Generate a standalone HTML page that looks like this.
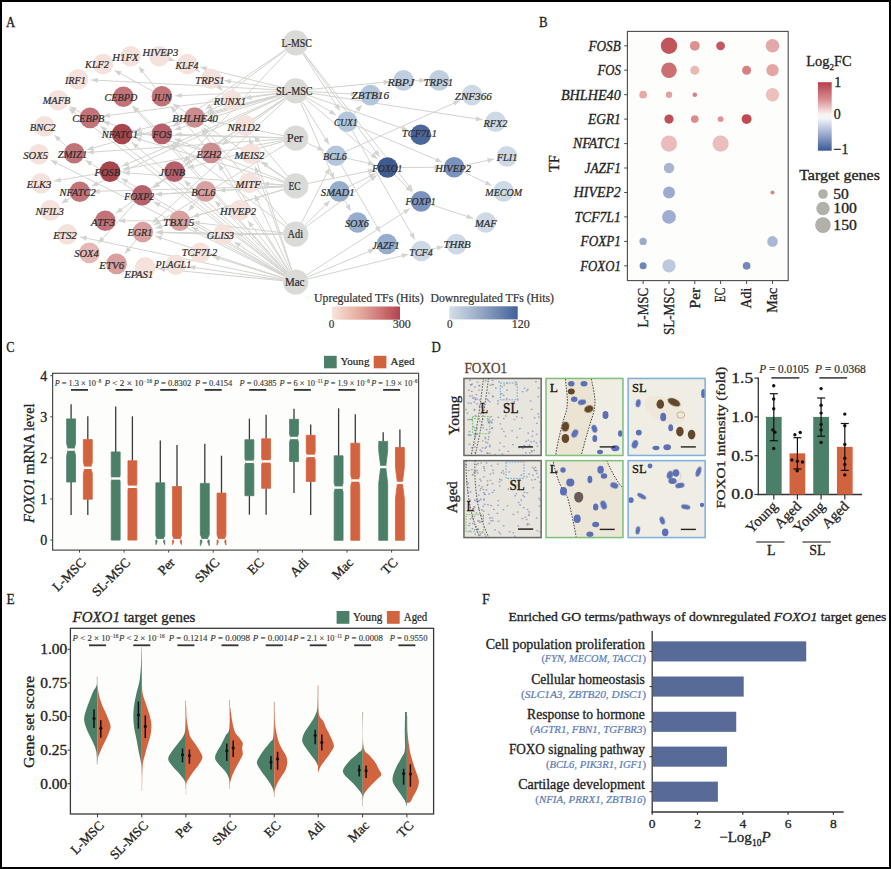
<!DOCTYPE html>
<html><head><meta charset="utf-8"><style>
html,body{margin:0;padding:0;background:#fff;}
svg{display:block;font-family:'Liberation Serif', serif;}
</style></head><body>
<svg width="891" height="869" viewBox="0 0 891 869">
<rect x="0" y="0" width="891" height="869" fill="#000"/>
<rect x="2" y="2" width="887" height="865" fill="#fff"/>
<text x="5.9" y="26.6" font-size="15.5" text-anchor="start" fill="#1a1a1a" style="" textLength="9.2" lengthAdjust="spacingAndGlyphs"  stroke="#1a1a1a" stroke-width="0.3">A</text>
<text x="539.0" y="26.7" font-size="15.5" text-anchor="start" fill="#1a1a1a" style="" textLength="8.6" lengthAdjust="spacingAndGlyphs"  stroke="#1a1a1a" stroke-width="0.3">B</text>
<text x="6.3" y="351.6" font-size="15.5" text-anchor="start" fill="#1a1a1a" style="" textLength="8.3" lengthAdjust="spacingAndGlyphs"  stroke="#1a1a1a" stroke-width="0.3">C</text>
<text x="431.5" y="351.5" font-size="15.5" text-anchor="start" fill="#1a1a1a" style="" textLength="9.3" lengthAdjust="spacingAndGlyphs"  stroke="#1a1a1a" stroke-width="0.3">D</text>
<text x="6.4" y="604.0" font-size="15.5" text-anchor="start" fill="#1a1a1a" style="" textLength="8.2" lengthAdjust="spacingAndGlyphs"  stroke="#1a1a1a" stroke-width="0.3">E</text>
<text x="482.0" y="603.9" font-size="15.5" text-anchor="start" fill="#1a1a1a" style="" textLength="7.8" lengthAdjust="spacingAndGlyphs"  stroke="#1a1a1a" stroke-width="0.3">F</text>
<line x1="285.6" y1="50.3" x2="205.4" y2="109.6" stroke="#d3d3cf" stroke-width="1"/>
<path d="M205.4,109.6L209.1,103.6L212.2,107.8Z" fill="#d3d3cf"/>
<line x1="287.1" y1="52.0" x2="183.6" y2="161.9" stroke="#d3d3cf" stroke-width="1"/>
<path d="M183.6,161.9L186.2,155.4L190.0,159.0Z" fill="#d3d3cf"/>
<line x1="302.6" y1="53.4" x2="339.9" y2="110.7" stroke="#d3d3cf" stroke-width="1"/>
<path d="M339.9,110.7L334.2,106.6L338.6,103.8Z" fill="#d3d3cf"/>
<line x1="303.2" y1="52.9" x2="379.6" y2="156.8" stroke="#d3d3cf" stroke-width="1"/>
<path d="M379.6,156.8L373.7,153.1L377.9,150.0Z" fill="#d3d3cf"/>
<line x1="303.5" y1="52.7" x2="412.9" y2="191.0" stroke="#d3d3cf" stroke-width="1"/>
<path d="M412.9,191.0L406.8,187.5L410.9,184.3Z" fill="#d3d3cf"/>
<line x1="285.3" y1="49.9" x2="172.9" y2="126.4" stroke="#d3d3cf" stroke-width="1"/>
<path d="M172.9,126.4L176.8,120.6L179.7,124.9Z" fill="#d3d3cf"/>
<line x1="283.1" y1="90.1" x2="91.3" y2="79.9" stroke="#d3d3cf" stroke-width="1"/>
<path d="M91.3,79.9L97.9,77.7L97.6,82.8Z" fill="#d3d3cf"/>
<line x1="283.2" y1="89.0" x2="224.3" y2="80.6" stroke="#d3d3cf" stroke-width="1"/>
<path d="M224.3,80.6L231.1,78.9L230.3,84.1Z" fill="#d3d3cf"/>
<line x1="283.1" y1="91.3" x2="175.2" y2="95.8" stroke="#d3d3cf" stroke-width="1"/>
<path d="M175.2,95.8L181.6,92.9L181.8,98.1Z" fill="#d3d3cf"/>
<line x1="283.2" y1="92.4" x2="103.3" y2="116.2" stroke="#d3d3cf" stroke-width="1"/>
<path d="M103.3,116.2L109.4,112.7L110.1,117.9Z" fill="#d3d3cf"/>
<line x1="283.5" y1="94.0" x2="207.6" y2="114.1" stroke="#d3d3cf" stroke-width="1"/>
<path d="M207.6,114.1L213.2,109.9L214.5,115.0Z" fill="#d3d3cf"/>
<line x1="283.5" y1="93.8" x2="134.9" y2="130.8" stroke="#d3d3cf" stroke-width="1"/>
<path d="M134.9,130.8L140.6,126.7L141.8,131.7Z" fill="#d3d3cf"/>
<line x1="283.7" y1="94.7" x2="174.6" y2="129.8" stroke="#d3d3cf" stroke-width="1"/>
<path d="M174.6,129.8L179.9,125.4L181.5,130.3Z" fill="#d3d3cf"/>
<line x1="283.6" y1="94.2" x2="87.0" y2="149.7" stroke="#d3d3cf" stroke-width="1"/>
<path d="M87.0,149.7L92.5,145.4L94.0,150.4Z" fill="#d3d3cf"/>
<line x1="284.1" y1="95.8" x2="122.2" y2="166.3" stroke="#d3d3cf" stroke-width="1"/>
<path d="M122.2,166.3L127.1,161.3L129.2,166.1Z" fill="#d3d3cf"/>
<line x1="284.3" y1="96.1" x2="91.8" y2="186.2" stroke="#d3d3cf" stroke-width="1"/>
<path d="M91.8,186.2L96.6,181.1L98.8,185.8Z" fill="#d3d3cf"/>
<line x1="286.4" y1="99.3" x2="152.6" y2="223.0" stroke="#d3d3cf" stroke-width="1"/>
<path d="M152.6,223.0L155.6,216.7L159.1,220.5Z" fill="#d3d3cf"/>
<line x1="283.5" y1="87.8" x2="200.2" y2="67.2" stroke="#d3d3cf" stroke-width="1"/>
<path d="M200.2,67.2L207.1,66.2L205.9,71.3Z" fill="#d3d3cf"/>
<line x1="283.2" y1="92.7" x2="245.0" y2="98.3" stroke="#d3d3cf" stroke-width="1"/>
<path d="M245.0,98.3L251.0,94.8L251.8,100.0Z" fill="#d3d3cf"/>
<line x1="285.5" y1="98.3" x2="221.8" y2="145.0" stroke="#d3d3cf" stroke-width="1"/>
<path d="M221.8,145.0L225.5,139.1L228.6,143.3Z" fill="#d3d3cf"/>
<line x1="285.2" y1="97.8" x2="185.6" y2="164.2" stroke="#d3d3cf" stroke-width="1"/>
<path d="M185.6,164.2L189.5,158.5L192.4,162.8Z" fill="#d3d3cf"/>
<line x1="285.3" y1="97.9" x2="153.2" y2="187.7" stroke="#d3d3cf" stroke-width="1"/>
<path d="M153.2,187.7L157.1,181.9L160.0,186.2Z" fill="#d3d3cf"/>
<line x1="308.2" y1="89.6" x2="390.3" y2="81.7" stroke="#d3d3cf" stroke-width="1"/>
<path d="M390.3,81.7L384.0,84.9L383.5,79.7Z" fill="#d3d3cf"/>
<line x1="308.2" y1="92.7" x2="482.5" y2="119.8" stroke="#d3d3cf" stroke-width="1"/>
<path d="M482.5,119.8L475.6,121.3L476.4,116.2Z" fill="#d3d3cf"/>
<line x1="307.6" y1="95.0" x2="408.2" y2="130.4" stroke="#d3d3cf" stroke-width="1"/>
<path d="M408.2,130.4L401.2,130.7L402.9,125.8Z" fill="#d3d3cf"/>
<line x1="308.3" y1="91.5" x2="357.2" y2="94.3" stroke="#d3d3cf" stroke-width="1"/>
<path d="M357.2,94.3L350.6,96.6L350.9,91.4Z" fill="#d3d3cf"/>
<line x1="306.5" y1="97.3" x2="335.8" y2="114.9" stroke="#d3d3cf" stroke-width="1"/>
<path d="M335.8,114.9L328.9,113.8L331.6,109.4Z" fill="#d3d3cf"/>
<line x1="302.3" y1="101.5" x2="329.0" y2="144.5" stroke="#d3d3cf" stroke-width="1"/>
<path d="M329.0,144.5L323.4,140.3L327.8,137.6Z" fill="#d3d3cf"/>
<line x1="305.4" y1="98.9" x2="377.3" y2="159.0" stroke="#d3d3cf" stroke-width="1"/>
<path d="M377.3,159.0L370.6,156.8L374.0,152.8Z" fill="#d3d3cf"/>
<line x1="300.7" y1="102.4" x2="334.1" y2="179.2" stroke="#d3d3cf" stroke-width="1"/>
<path d="M334.1,179.2L329.1,174.3L333.9,172.2Z" fill="#d3d3cf"/>
<line x1="283.1" y1="137.8" x2="175.2" y2="134.3" stroke="#d3d3cf" stroke-width="1"/>
<path d="M175.2,134.3L181.8,131.9L181.6,137.1Z" fill="#d3d3cf"/>
<line x1="283.3" y1="140.4" x2="123.1" y2="169.2" stroke="#d3d3cf" stroke-width="1"/>
<path d="M123.1,169.2L129.0,165.5L129.9,170.7Z" fill="#d3d3cf"/>
<line x1="285.0" y1="144.8" x2="154.1" y2="225.0" stroke="#d3d3cf" stroke-width="1"/>
<path d="M154.1,225.0L158.3,219.4L161.0,223.9Z" fill="#d3d3cf"/>
<line x1="283.4" y1="135.7" x2="207.7" y2="120.2" stroke="#d3d3cf" stroke-width="1"/>
<path d="M207.7,120.2L214.6,118.9L213.6,124.0Z" fill="#d3d3cf"/>
<line x1="283.1" y1="137.9" x2="135.3" y2="134.3" stroke="#d3d3cf" stroke-width="1"/>
<path d="M135.3,134.3L141.9,131.9L141.7,137.1Z" fill="#d3d3cf"/>
<line x1="283.6" y1="141.5" x2="187.3" y2="168.1" stroke="#d3d3cf" stroke-width="1"/>
<path d="M187.3,168.1L192.9,163.8L194.3,168.8Z" fill="#d3d3cf"/>
<line x1="283.1" y1="139.1" x2="87.5" y2="152.4" stroke="#d3d3cf" stroke-width="1"/>
<path d="M87.5,152.4L93.8,149.4L94.1,154.5Z" fill="#d3d3cf"/>
<line x1="307.2" y1="143.2" x2="323.8" y2="150.5" stroke="#d3d3cf" stroke-width="1"/>
<path d="M323.8,150.5L316.8,150.3L318.9,145.5Z" fill="#d3d3cf"/>
<line x1="283.1" y1="184.9" x2="123.3" y2="172.6" stroke="#d3d3cf" stroke-width="1"/>
<path d="M123.3,172.6L129.9,170.5L129.5,175.7Z" fill="#d3d3cf"/>
<line x1="283.6" y1="182.3" x2="134.7" y2="137.8" stroke="#d3d3cf" stroke-width="1"/>
<path d="M134.7,137.8L141.7,137.2L140.2,142.2Z" fill="#d3d3cf"/>
<line x1="283.6" y1="189.5" x2="155.5" y2="228.2" stroke="#d3d3cf" stroke-width="1"/>
<path d="M155.5,228.2L161.0,223.8L162.5,228.8Z" fill="#d3d3cf"/>
<line x1="284.0" y1="181.3" x2="174.3" y2="138.7" stroke="#d3d3cf" stroke-width="1"/>
<path d="M174.3,138.7L181.3,138.6L179.4,143.5Z" fill="#d3d3cf"/>
<line x1="283.1" y1="185.1" x2="262.4" y2="183.7" stroke="#d3d3cf" stroke-width="1"/>
<path d="M262.4,183.7L269.0,181.5L268.7,186.7Z" fill="#d3d3cf"/>
<line x1="283.1" y1="186.7" x2="218.9" y2="190.6" stroke="#d3d3cf" stroke-width="1"/>
<path d="M218.9,190.6L225.2,187.6L225.5,192.8Z" fill="#d3d3cf"/>
<line x1="283.1" y1="186.2" x2="93.1" y2="191.4" stroke="#d3d3cf" stroke-width="1"/>
<path d="M93.1,191.4L99.5,188.7L99.7,193.9Z" fill="#d3d3cf"/>
<line x1="283.1" y1="186.7" x2="155.5" y2="194.4" stroke="#d3d3cf" stroke-width="1"/>
<path d="M155.5,194.4L161.8,191.4L162.1,196.6Z" fill="#d3d3cf"/>
<line x1="283.6" y1="189.5" x2="192.4" y2="217.0" stroke="#d3d3cf" stroke-width="1"/>
<path d="M192.4,217.0L197.9,212.6L199.4,217.6Z" fill="#d3d3cf"/>
<line x1="285.5" y1="178.6" x2="261.6" y2="161.5" stroke="#d3d3cf" stroke-width="1"/>
<path d="M261.6,161.5L268.4,163.2L265.4,167.4Z" fill="#d3d3cf"/>
<line x1="287.6" y1="176.2" x2="253.8" y2="135.8" stroke="#d3d3cf" stroke-width="1"/>
<path d="M253.8,135.8L260.0,139.1L256.0,142.5Z" fill="#d3d3cf"/>
<line x1="308.1" y1="183.4" x2="374.5" y2="170.1" stroke="#d3d3cf" stroke-width="1"/>
<path d="M374.5,170.1L368.6,173.9L367.6,168.8Z" fill="#d3d3cf"/>
<line x1="285.2" y1="178.9" x2="173.0" y2="103.7" stroke="#d3d3cf" stroke-width="1"/>
<path d="M173.0,103.7L179.8,105.2L176.9,109.5Z" fill="#d3d3cf"/>
<line x1="283.1" y1="234.0" x2="156.1" y2="232.2" stroke="#d3d3cf" stroke-width="1"/>
<path d="M156.1,232.2L162.6,229.7L162.6,234.9Z" fill="#d3d3cf"/>
<line x1="285.6" y1="226.6" x2="172.5" y2="141.9" stroke="#d3d3cf" stroke-width="1"/>
<path d="M172.5,141.9L179.3,143.7L176.2,147.9Z" fill="#d3d3cf"/>
<line x1="283.1" y1="234.3" x2="236.5" y2="234.5" stroke="#d3d3cf" stroke-width="1"/>
<path d="M236.5,234.5L243.0,231.9L243.0,237.1Z" fill="#d3d3cf"/>
<line x1="287.5" y1="224.7" x2="203.4" y2="127.6" stroke="#d3d3cf" stroke-width="1"/>
<path d="M203.4,127.6L209.6,130.8L205.7,134.2Z" fill="#d3d3cf"/>
<line x1="283.2" y1="232.8" x2="192.9" y2="222.3" stroke="#d3d3cf" stroke-width="1"/>
<path d="M192.9,222.3L199.7,220.5L199.1,225.7Z" fill="#d3d3cf"/>
<line x1="301.5" y1="223.0" x2="329.9" y2="167.6" stroke="#d3d3cf" stroke-width="1"/>
<path d="M329.9,167.6L329.3,174.6L324.6,172.2Z" fill="#d3d3cf"/>
<line x1="304.7" y1="225.4" x2="329.9" y2="200.7" stroke="#d3d3cf" stroke-width="1"/>
<path d="M329.9,200.7L327.1,207.1L323.4,203.4Z" fill="#d3d3cf"/>
<line x1="305.9" y1="226.8" x2="376.7" y2="175.3" stroke="#d3d3cf" stroke-width="1"/>
<path d="M376.7,175.3L373.0,181.2L370.0,177.0Z" fill="#d3d3cf"/>
<line x1="287.1" y1="272.8" x2="132.5" y2="106.5" stroke="#d3d3cf" stroke-width="1"/>
<path d="M132.5,106.5L138.8,109.5L135.0,113.1Z" fill="#d3d3cf"/>
<line x1="284.9" y1="275.6" x2="121.4" y2="178.4" stroke="#d3d3cf" stroke-width="1"/>
<path d="M121.4,178.4L128.3,179.5L125.7,184.0Z" fill="#d3d3cf"/>
<line x1="287.3" y1="272.7" x2="170.8" y2="143.8" stroke="#d3d3cf" stroke-width="1"/>
<path d="M170.8,143.8L177.1,146.8L173.2,150.3Z" fill="#d3d3cf"/>
<line x1="289.1" y1="271.3" x2="201.7" y2="128.8" stroke="#d3d3cf" stroke-width="1"/>
<path d="M201.7,128.8L207.3,133.0L202.8,135.7Z" fill="#d3d3cf"/>
<line x1="283.7" y1="278.1" x2="155.4" y2="236.1" stroke="#d3d3cf" stroke-width="1"/>
<path d="M155.4,236.1L162.4,235.7L160.8,240.6Z" fill="#d3d3cf"/>
<line x1="287.9" y1="272.1" x2="247.8" y2="220.9" stroke="#d3d3cf" stroke-width="1"/>
<path d="M247.8,220.9L253.9,224.4L249.8,227.6Z" fill="#d3d3cf"/>
<line x1="285.2" y1="275.1" x2="234.3" y2="241.9" stroke="#d3d3cf" stroke-width="1"/>
<path d="M234.3,241.9L241.2,243.3L238.3,247.6Z" fill="#d3d3cf"/>
<line x1="283.7" y1="278.3" x2="213.1" y2="256.6" stroke="#d3d3cf" stroke-width="1"/>
<path d="M213.1,256.6L220.1,256.0L218.6,261.0Z" fill="#d3d3cf"/>
<line x1="283.2" y1="280.2" x2="188.9" y2="266.7" stroke="#d3d3cf" stroke-width="1"/>
<path d="M188.9,266.7L195.7,265.0L194.9,270.2Z" fill="#d3d3cf"/>
<line x1="283.2" y1="280.8" x2="158.4" y2="268.7" stroke="#d3d3cf" stroke-width="1"/>
<path d="M158.4,268.7L165.2,266.7L164.7,271.9Z" fill="#d3d3cf"/>
<line x1="283.4" y1="279.4" x2="80.3" y2="236.9" stroke="#d3d3cf" stroke-width="1"/>
<path d="M80.3,236.9L87.2,235.7L86.1,240.8Z" fill="#d3d3cf"/>
<line x1="284.4" y1="276.4" x2="50.7" y2="160.2" stroke="#d3d3cf" stroke-width="1"/>
<path d="M50.7,160.2L57.7,160.8L55.4,165.4Z" fill="#d3d3cf"/>
<line x1="290.3" y1="270.6" x2="254.8" y2="194.8" stroke="#d3d3cf" stroke-width="1"/>
<path d="M254.8,194.8L259.9,199.6L255.2,201.8Z" fill="#d3d3cf"/>
<line x1="291.5" y1="270.1" x2="255.2" y2="166.4" stroke="#d3d3cf" stroke-width="1"/>
<path d="M255.2,166.4L259.8,171.6L254.9,173.3Z" fill="#d3d3cf"/>
<line x1="291.8" y1="270.0" x2="249.4" y2="138.3" stroke="#d3d3cf" stroke-width="1"/>
<path d="M249.4,138.3L253.8,143.6L248.9,145.2Z" fill="#d3d3cf"/>
<line x1="286.4" y1="273.5" x2="184.3" y2="180.6" stroke="#d3d3cf" stroke-width="1"/>
<path d="M184.3,180.6L190.9,183.0L187.4,186.9Z" fill="#d3d3cf"/>
<line x1="286.8" y1="273.1" x2="215.0" y2="200.8" stroke="#d3d3cf" stroke-width="1"/>
<path d="M215.0,200.8L221.4,203.6L217.7,207.3Z" fill="#d3d3cf"/>
<line x1="285.9" y1="274.1" x2="100.5" y2="126.2" stroke="#d3d3cf" stroke-width="1"/>
<path d="M100.5,126.2L107.2,128.2L104.0,132.3Z" fill="#d3d3cf"/>
<line x1="285.7" y1="274.3" x2="68.8" y2="108.4" stroke="#d3d3cf" stroke-width="1"/>
<path d="M68.8,108.4L75.5,110.3L72.3,114.4Z" fill="#d3d3cf"/>
<line x1="284.6" y1="276.1" x2="191.5" y2="227.0" stroke="#d3d3cf" stroke-width="1"/>
<path d="M191.5,227.0L198.4,227.7L196.0,232.3Z" fill="#d3d3cf"/>
<line x1="284.7" y1="275.8" x2="153.8" y2="201.7" stroke="#d3d3cf" stroke-width="1"/>
<path d="M153.8,201.7L160.7,202.7L158.2,207.2Z" fill="#d3d3cf"/>
<line x1="306.3" y1="275.2" x2="409.9" y2="208.6" stroke="#d3d3cf" stroke-width="1"/>
<path d="M409.9,208.6L405.8,214.3L403.0,209.9Z" fill="#d3d3cf"/>
<line x1="307.9" y1="279.0" x2="408.5" y2="254.2" stroke="#d3d3cf" stroke-width="1"/>
<path d="M408.5,254.2L402.8,258.3L401.6,253.2Z" fill="#d3d3cf"/>
<line x1="307.3" y1="277.2" x2="374.6" y2="249.1" stroke="#d3d3cf" stroke-width="1"/>
<path d="M374.6,249.1L369.6,254.0L367.6,249.2Z" fill="#d3d3cf"/>
<line x1="288.8" y1="271.5" x2="218.4" y2="164.0" stroke="#d3d3cf" stroke-width="1"/>
<path d="M218.4,164.0L224.1,168.0L219.8,170.9Z" fill="#d3d3cf"/>
<line x1="286.1" y1="273.8" x2="132.1" y2="142.6" stroke="#d3d3cf" stroke-width="1"/>
<path d="M132.1,142.6L138.8,144.9L135.4,148.8Z" fill="#d3d3cf"/>
<line x1="413.8" y1="80.4" x2="425.9" y2="80.4" stroke="#d3d3cf" stroke-width="1"/>
<path d="M425.9,80.4L419.4,83.0L419.4,77.8Z" fill="#d3d3cf"/>
<line x1="464.3" y1="165.2" x2="494.0" y2="159.1" stroke="#d3d3cf" stroke-width="1"/>
<path d="M494.0,159.1L488.1,162.9L487.1,157.9Z" fill="#d3d3cf"/>
<line x1="463.5" y1="171.8" x2="491.6" y2="185.6" stroke="#d3d3cf" stroke-width="1"/>
<path d="M491.6,185.6L484.7,185.1L486.9,180.4Z" fill="#d3d3cf"/>
<line x1="397.8" y1="167.5" x2="440.9" y2="167.3" stroke="#d3d3cf" stroke-width="1"/>
<path d="M440.9,167.3L434.4,170.0L434.4,164.8Z" fill="#d3d3cf"/>
<line x1="394.8" y1="174.8" x2="411.7" y2="192.0" stroke="#d3d3cf" stroke-width="1"/>
<path d="M411.7,192.0L405.3,189.2L409.0,185.5Z" fill="#d3d3cf"/>
<line x1="430.9" y1="204.6" x2="473.2" y2="218.4" stroke="#d3d3cf" stroke-width="1"/>
<path d="M473.2,218.4L466.2,218.8L467.8,213.9Z" fill="#d3d3cf"/>
<line x1="431.5" y1="249.0" x2="443.4" y2="246.7" stroke="#d3d3cf" stroke-width="1"/>
<path d="M443.4,246.7L437.6,250.5L436.6,245.4Z" fill="#d3d3cf"/>
<line x1="354.0" y1="114.0" x2="361.8" y2="105.1" stroke="#d3d3cf" stroke-width="1"/>
<path d="M361.8,105.1L359.4,111.7L355.5,108.3Z" fill="#d3d3cf"/>
<line x1="356.7" y1="125.8" x2="442.0" y2="162.1" stroke="#d3d3cf" stroke-width="1"/>
<path d="M442.0,162.1L435.0,161.9L437.0,157.2Z" fill="#d3d3cf"/>
<line x1="352.3" y1="130.7" x2="414.8" y2="239.5" stroke="#d3d3cf" stroke-width="1"/>
<path d="M414.8,239.5L409.3,235.1L413.8,232.5Z" fill="#d3d3cf"/>
<line x1="345.4" y1="151.6" x2="459.9" y2="100.5" stroke="#d3d3cf" stroke-width="1"/>
<path d="M459.9,100.5L455.0,105.5L452.9,100.8Z" fill="#d3d3cf"/>
<line x1="341.1" y1="164.7" x2="380.3" y2="232.5" stroke="#d3d3cf" stroke-width="1"/>
<path d="M380.3,232.5L374.8,228.2L379.3,225.6Z" fill="#d3d3cf"/>
<line x1="346.0" y1="158.1" x2="374.5" y2="164.6" stroke="#d3d3cf" stroke-width="1"/>
<path d="M374.5,164.6L367.6,165.6L368.8,160.6Z" fill="#d3d3cf"/>
<line x1="344.6" y1="200.3" x2="350.8" y2="211.0" stroke="#d3d3cf" stroke-width="1"/>
<path d="M350.8,211.0L345.3,206.7L349.8,204.1Z" fill="#d3d3cf"/>
<line x1="348.6" y1="186.8" x2="375.6" y2="173.4" stroke="#d3d3cf" stroke-width="1"/>
<path d="M375.6,173.4L370.9,178.6L368.6,174.0Z" fill="#d3d3cf"/>
<line x1="196.1" y1="69.4" x2="199.8" y2="71.7" stroke="#d3d3cf" stroke-width="1"/>
<path d="M199.8,71.7L192.9,70.5L195.6,66.1Z" fill="#d3d3cf"/>
<line x1="155.6" y1="88.2" x2="138.9" y2="66.7" stroke="#d3d3cf" stroke-width="1"/>
<path d="M138.9,66.7L144.9,70.2L140.8,73.4Z" fill="#d3d3cf"/>
<line x1="152.9" y1="91.3" x2="114.7" y2="70.4" stroke="#d3d3cf" stroke-width="1"/>
<path d="M114.7,70.4L121.6,71.2L119.1,75.8Z" fill="#d3d3cf"/>
<line x1="154.5" y1="126.8" x2="133.0" y2="106.0" stroke="#d3d3cf" stroke-width="1"/>
<path d="M133.0,106.0L139.5,108.7L135.9,112.4Z" fill="#d3d3cf"/>
<line x1="151.6" y1="133.9" x2="135.3" y2="134.0" stroke="#d3d3cf" stroke-width="1"/>
<path d="M135.3,134.0L141.8,131.4L141.8,136.6Z" fill="#d3d3cf"/>
<line x1="166.2" y1="177.7" x2="152.9" y2="187.4" stroke="#d3d3cf" stroke-width="1"/>
<path d="M152.9,187.4L156.7,181.4L159.7,185.6Z" fill="#d3d3cf"/>
<line x1="166.1" y1="177.6" x2="116.1" y2="213.1" stroke="#d3d3cf" stroke-width="1"/>
<path d="M116.1,213.1L119.9,207.2L122.9,211.4Z" fill="#d3d3cf"/>
<line x1="136.2" y1="239.9" x2="125.0" y2="253.6" stroke="#d3d3cf" stroke-width="1"/>
<path d="M125.0,253.6L127.1,247.0L131.1,250.3Z" fill="#d3d3cf"/>
<line x1="99.8" y1="173.3" x2="54.2" y2="181.1" stroke="#d3d3cf" stroke-width="1"/>
<path d="M54.2,181.1L60.2,177.4L61.1,182.5Z" fill="#d3d3cf"/>
<line x1="71.1" y1="197.3" x2="61.6" y2="203.3" stroke="#d3d3cf" stroke-width="1"/>
<path d="M61.6,203.3L65.7,197.6L68.5,202.0Z" fill="#d3d3cf"/>
<line x1="81.1" y1="112.9" x2="69.8" y2="106.7" stroke="#d3d3cf" stroke-width="1"/>
<path d="M69.8,106.7L76.8,107.6L74.3,112.1Z" fill="#d3d3cf"/>
<line x1="66.6" y1="146.4" x2="54.3" y2="135.2" stroke="#d3d3cf" stroke-width="1"/>
<path d="M54.3,135.2L60.9,137.6L57.4,141.5Z" fill="#d3d3cf"/>
<line x1="222.5" y1="104.6" x2="206.8" y2="111.9" stroke="#d3d3cf" stroke-width="1"/>
<path d="M206.8,111.9L211.6,106.8L213.8,111.5Z" fill="#d3d3cf"/>
<line x1="218.2" y1="86.1" x2="222.6" y2="90.7" stroke="#d3d3cf" stroke-width="1"/>
<path d="M222.6,90.7L216.2,87.8L220.0,84.2Z" fill="#d3d3cf"/>
<line x1="169.2" y1="59.0" x2="174.5" y2="60.5" stroke="#d3d3cf" stroke-width="1"/>
<path d="M174.5,60.5L167.5,61.3L168.9,56.2Z" fill="#d3d3cf"/>
<line x1="212.9" y1="234.3" x2="156.1" y2="232.4" stroke="#d3d3cf" stroke-width="1"/>
<path d="M156.1,232.4L162.7,230.0L162.5,235.2Z" fill="#d3d3cf"/>
<line x1="169.4" y1="220.8" x2="118.6" y2="220.8" stroke="#d3d3cf" stroke-width="1"/>
<path d="M118.6,220.8L125.1,218.2L125.1,223.4Z" fill="#d3d3cf"/>
<line x1="135.2" y1="202.8" x2="98.4" y2="243.1" stroke="#d3d3cf" stroke-width="1"/>
<path d="M98.4,243.1L100.8,236.5L104.7,240.0Z" fill="#d3d3cf"/>
<line x1="133.4" y1="189.8" x2="85.5" y2="160.3" stroke="#d3d3cf" stroke-width="1"/>
<path d="M85.5,160.3L92.4,161.5L89.7,165.9Z" fill="#d3d3cf"/>
<line x1="201.2" y1="150.0" x2="102.9" y2="121.6" stroke="#d3d3cf" stroke-width="1"/>
<path d="M102.9,121.6L109.8,120.9L108.4,125.9Z" fill="#d3d3cf"/>
<line x1="204.3" y1="145.1" x2="170.6" y2="106.3" stroke="#d3d3cf" stroke-width="1"/>
<path d="M170.6,106.3L176.9,109.5L172.9,112.9Z" fill="#d3d3cf"/>
<line x1="195.3" y1="192.0" x2="155.5" y2="194.4" stroke="#d3d3cf" stroke-width="1"/>
<path d="M155.5,194.4L161.8,191.4L162.1,196.6Z" fill="#d3d3cf"/>
<line x1="198.8" y1="199.1" x2="188.5" y2="210.8" stroke="#d3d3cf" stroke-width="1"/>
<path d="M188.5,210.8L190.8,204.2L194.7,207.7Z" fill="#d3d3cf"/>
<circle cx="103" cy="64" r="10.3" fill="#f6e2dc"/>
<circle cx="130.7" cy="56.2" r="10.3" fill="#f6e2dc"/>
<circle cx="159.3" cy="56.3" r="10.3" fill="#f6e2dc"/>
<circle cx="187.3" cy="64" r="10.3" fill="#f6e2dc"/>
<circle cx="211.1" cy="78.7" r="10.3" fill="#f6e2dc"/>
<circle cx="78" cy="79.2" r="10.3" fill="#f6e2dc"/>
<circle cx="58.2" cy="100.3" r="10.3" fill="#f6e2dc"/>
<circle cx="44.5" cy="126.2" r="10.3" fill="#f6e2dc"/>
<circle cx="38.8" cy="154.3" r="10.3" fill="#f6e2dc"/>
<circle cx="41.1" cy="183.3" r="10.3" fill="#f6e2dc"/>
<circle cx="50.4" cy="210.4" r="10.3" fill="#f6e2dc"/>
<circle cx="67.3" cy="234.2" r="10.3" fill="#f6e2dc"/>
<circle cx="89.4" cy="252.9" r="10.3" fill="#e5b8b4"/>
<circle cx="116.5" cy="263.9" r="10.3" fill="#d8a09f"/>
<circle cx="145.2" cy="267.4" r="10.3" fill="#f6e2dc"/>
<circle cx="175.7" cy="264.8" r="10.3" fill="#f6e2dc"/>
<circle cx="200.4" cy="252.7" r="10.3" fill="#f6e2dc"/>
<circle cx="223.2" cy="234.6" r="10.3" fill="#f6e2dc"/>
<circle cx="239.6" cy="210.4" r="10.3" fill="#f6e2dc"/>
<circle cx="249.1" cy="182.8" r="10.3" fill="#f6e2dc"/>
<circle cx="250.8" cy="153.8" r="10.3" fill="#f6e2dc"/>
<circle cx="245.3" cy="125.6" r="10.3" fill="#f6e2dc"/>
<circle cx="231.8" cy="100.3" r="10.3" fill="#f6e2dc"/>
<circle cx="123.4" cy="96.8" r="10.3" fill="#c27378"/>
<circle cx="161.9" cy="96.3" r="10.3" fill="#c27378"/>
<circle cx="90.1" cy="117.9" r="10.3" fill="#c27378"/>
<circle cx="194.7" cy="117.5" r="10.3" fill="#cc8d8f"/>
<circle cx="122" cy="134" r="10.3" fill="#a8444c"/>
<circle cx="161.9" cy="133.9" r="10.3" fill="#b5606a"/>
<circle cx="74.2" cy="153.3" r="10.3" fill="#c27378"/>
<circle cx="211.1" cy="152.9" r="10.3" fill="#cc8d8f"/>
<circle cx="110" cy="171.6" r="10.3" fill="#a8444c"/>
<circle cx="174.5" cy="171.6" r="10.3" fill="#b5606a"/>
<circle cx="79.8" cy="191.8" r="10.3" fill="#c27378"/>
<circle cx="142.2" cy="195.2" r="10.3" fill="#b5606a"/>
<circle cx="205.6" cy="191.4" r="10.3" fill="#d8a09f"/>
<circle cx="105.3" cy="220.8" r="10.3" fill="#c27378"/>
<circle cx="179.7" cy="220.8" r="10.3" fill="#d8a09f"/>
<circle cx="142.8" cy="232" r="10.3" fill="#d8a09f"/>
<circle cx="403.5" cy="80.4" r="10.3" fill="#c0cfdf"/>
<circle cx="439.2" cy="80.4" r="10.3" fill="#c0cfdf"/>
<circle cx="370.5" cy="95.1" r="10.3" fill="#b3c7dc"/>
<circle cx="472" cy="95.1" r="10.3" fill="#cddae6"/>
<circle cx="347.2" cy="121.8" r="10.3" fill="#b3c7dc"/>
<circle cx="495.6" cy="121.8" r="10.3" fill="#cddae6"/>
<circle cx="420.7" cy="134.8" r="10.3" fill="#4a679c"/>
<circle cx="336" cy="155.8" r="10.3" fill="#b3c7dc"/>
<circle cx="387.5" cy="167.5" r="10.3" fill="#3e5a8f"/>
<circle cx="454.2" cy="167.3" r="10.3" fill="#7a92bd"/>
<circle cx="507" cy="156.4" r="10.3" fill="#cddae6"/>
<circle cx="339.4" cy="191.4" r="10.3" fill="#96adcc"/>
<circle cx="503.6" cy="191.4" r="10.3" fill="#cddae6"/>
<circle cx="421.1" cy="201.4" r="10.3" fill="#7a92bd"/>
<circle cx="357.5" cy="222.5" r="10.3" fill="#96adcc"/>
<circle cx="485.8" cy="222.5" r="10.3" fill="#cddae6"/>
<circle cx="386.9" cy="244" r="10.3" fill="#96adcc"/>
<circle cx="456.5" cy="244.1" r="10.3" fill="#cddae6"/>
<circle cx="421.4" cy="251" r="10.3" fill="#cddae6"/>
<circle cx="295.7" cy="42.8" r="12.6" fill="#dadad7"/>
<circle cx="295.7" cy="90.8" r="12.6" fill="#dadad7"/>
<circle cx="295.7" cy="138.2" r="12.6" fill="#dadad7"/>
<circle cx="295.7" cy="185.9" r="12.6" fill="#dadad7"/>
<circle cx="295.7" cy="234.2" r="12.6" fill="#dadad7"/>
<circle cx="295.7" cy="282" r="12.6" fill="#dadad7"/>
<text x="85.1" y="68.3" font-size="11.3" text-anchor="start" fill="#2b2b2b" style="font-style:italic;" textLength="23.9" lengthAdjust="spacingAndGlyphs"  stroke="#2b2b2b" stroke-width="0.22">KLF2</text>
<text x="112.3" y="60.9" font-size="11.3" text-anchor="start" fill="#2b2b2b" style="font-style:italic;" textLength="26.3" lengthAdjust="spacingAndGlyphs"  stroke="#2b2b2b" stroke-width="0.22">H1FX</text>
<text x="142.6" y="56.4" font-size="11.3" text-anchor="start" fill="#2b2b2b" style="font-style:italic;" textLength="35.7" lengthAdjust="spacingAndGlyphs"  stroke="#2b2b2b" stroke-width="0.22">HIVEP3</text>
<text x="175.4" y="68.6" font-size="11.3" text-anchor="start" fill="#2b2b2b" style="font-style:italic;" textLength="23.1" lengthAdjust="spacingAndGlyphs"  stroke="#2b2b2b" stroke-width="0.22">KLF4</text>
<text x="195.3" y="83.9" font-size="11.3" text-anchor="start" fill="#2b2b2b" style="font-style:italic;" textLength="29.3" lengthAdjust="spacingAndGlyphs"  stroke="#2b2b2b" stroke-width="0.22">TRPS1</text>
<text x="64.9" y="83.5" font-size="11.3" text-anchor="start" fill="#2b2b2b" style="font-style:italic;" textLength="20.9" lengthAdjust="spacingAndGlyphs"  stroke="#2b2b2b" stroke-width="0.22">IRF1</text>
<text x="42.7" y="104.3" font-size="11.3" text-anchor="start" fill="#2b2b2b" style="font-style:italic;" textLength="27.6" lengthAdjust="spacingAndGlyphs"  stroke="#2b2b2b" stroke-width="0.22">MAFB</text>
<text x="29.7" y="130.5" font-size="11.3" text-anchor="start" fill="#2b2b2b" style="font-style:italic;" textLength="25.9" lengthAdjust="spacingAndGlyphs"  stroke="#2b2b2b" stroke-width="0.22">BNC2</text>
<text x="23.3" y="159.0" font-size="11.3" text-anchor="start" fill="#2b2b2b" style="font-style:italic;" textLength="24.7" lengthAdjust="spacingAndGlyphs"  stroke="#2b2b2b" stroke-width="0.22">SOX5</text>
<text x="26.8" y="188.0" font-size="11.3" text-anchor="start" fill="#2b2b2b" style="font-style:italic;" textLength="24.6" lengthAdjust="spacingAndGlyphs"  stroke="#2b2b2b" stroke-width="0.22">ELK3</text>
<text x="35.4" y="215.3" font-size="11.3" text-anchor="start" fill="#2b2b2b" style="font-style:italic;" textLength="28.5" lengthAdjust="spacingAndGlyphs"  stroke="#2b2b2b" stroke-width="0.22">NFIL3</text>
<text x="53.2" y="238.9" font-size="11.3" text-anchor="start" fill="#2b2b2b" style="font-style:italic;" textLength="23.6" lengthAdjust="spacingAndGlyphs"  stroke="#2b2b2b" stroke-width="0.22">ETS2</text>
<text x="74.2" y="257.4" font-size="11.3" text-anchor="start" fill="#2b2b2b" style="font-style:italic;" textLength="24.5" lengthAdjust="spacingAndGlyphs"  stroke="#2b2b2b" stroke-width="0.22">SOX4</text>
<text x="99.3" y="268.8" font-size="11.3" text-anchor="start" fill="#2b2b2b" style="font-style:italic;" textLength="25.0" lengthAdjust="spacingAndGlyphs"  stroke="#2b2b2b" stroke-width="0.22">ETV6</text>
<text x="124.3" y="278.0" font-size="11.3" text-anchor="start" fill="#2b2b2b" style="font-style:italic;" textLength="29.0" lengthAdjust="spacingAndGlyphs"  stroke="#2b2b2b" stroke-width="0.22">EPAS1</text>
<text x="155.5" y="268.2" font-size="11.3" text-anchor="start" fill="#2b2b2b" style="font-style:italic;" textLength="35.8" lengthAdjust="spacingAndGlyphs"  stroke="#2b2b2b" stroke-width="0.22">PLAGL1</text>
<text x="181.8" y="256.2" font-size="11.3" text-anchor="start" fill="#2b2b2b" style="font-style:italic;" textLength="35.4" lengthAdjust="spacingAndGlyphs"  stroke="#2b2b2b" stroke-width="0.22">TCF7L2</text>
<text x="206.8" y="239.4" font-size="11.3" text-anchor="start" fill="#2b2b2b" style="font-style:italic;" textLength="27.3" lengthAdjust="spacingAndGlyphs"  stroke="#2b2b2b" stroke-width="0.22">GLIS3</text>
<text x="220.1" y="215.3" font-size="11.3" text-anchor="start" fill="#2b2b2b" style="font-style:italic;" textLength="35.9" lengthAdjust="spacingAndGlyphs"  stroke="#2b2b2b" stroke-width="0.22">HIVEP2</text>
<text x="235.6" y="188.0" font-size="11.3" text-anchor="start" fill="#2b2b2b" style="font-style:italic;" textLength="25.2" lengthAdjust="spacingAndGlyphs"  stroke="#2b2b2b" stroke-width="0.22">MITF</text>
<text x="234.4" y="159.0" font-size="11.3" text-anchor="start" fill="#2b2b2b" style="font-style:italic;" textLength="29.9" lengthAdjust="spacingAndGlyphs"  stroke="#2b2b2b" stroke-width="0.22">MEIS2</text>
<text x="227.5" y="130.5" font-size="11.3" text-anchor="start" fill="#2b2b2b" style="font-style:italic;" textLength="32.8" lengthAdjust="spacingAndGlyphs"  stroke="#2b2b2b" stroke-width="0.22">NR1D2</text>
<text x="213.7" y="104.9" font-size="11.3" text-anchor="start" fill="#2b2b2b" style="font-style:italic;" textLength="32.3" lengthAdjust="spacingAndGlyphs"  stroke="#2b2b2b" stroke-width="0.22">RUNX1</text>
<text x="104.6" y="100.7" font-size="11.3" text-anchor="start" fill="#2b2b2b" style="font-style:italic;" textLength="32.6" lengthAdjust="spacingAndGlyphs"  stroke="#2b2b2b" stroke-width="0.22">CEBPD</text>
<text x="152.4" y="101.1" font-size="11.3" text-anchor="start" fill="#2b2b2b" style="font-style:italic;" textLength="19.0" lengthAdjust="spacingAndGlyphs"  stroke="#2b2b2b" stroke-width="0.22">JUN</text>
<text x="72.2" y="121.8" font-size="11.3" text-anchor="start" fill="#2b2b2b" style="font-style:italic;" textLength="32.2" lengthAdjust="spacingAndGlyphs"  stroke="#2b2b2b" stroke-width="0.22">CEBPB</text>
<text x="172.3" y="121.8" font-size="11.3" text-anchor="start" fill="#2b2b2b" style="font-style:italic;" textLength="45.7" lengthAdjust="spacingAndGlyphs"  stroke="#2b2b2b" stroke-width="0.22">BHLHE40</text>
<text x="101.8" y="138.2" font-size="11.3" text-anchor="start" fill="#2b2b2b" style="font-style:italic;" textLength="36.3" lengthAdjust="spacingAndGlyphs"  stroke="#2b2b2b" stroke-width="0.22">NFATC1</text>
<text x="152.4" y="138.2" font-size="11.3" text-anchor="start" fill="#2b2b2b" style="font-style:italic;" textLength="19.0" lengthAdjust="spacingAndGlyphs"  stroke="#2b2b2b" stroke-width="0.22">FOS</text>
<text x="57.8" y="158.1" font-size="11.3" text-anchor="start" fill="#2b2b2b" style="font-style:italic;" textLength="29.4" lengthAdjust="spacingAndGlyphs"  stroke="#2b2b2b" stroke-width="0.22">ZMIZ1</text>
<text x="196.5" y="158.1" font-size="11.3" text-anchor="start" fill="#2b2b2b" style="font-style:italic;" textLength="25.0" lengthAdjust="spacingAndGlyphs"  stroke="#2b2b2b" stroke-width="0.22">EZH2</text>
<text x="94.6" y="175.9" font-size="11.3" text-anchor="start" fill="#2b2b2b" style="font-style:italic;" textLength="25.4" lengthAdjust="spacingAndGlyphs"  stroke="#2b2b2b" stroke-width="0.22">FOSB</text>
<text x="159.3" y="175.9" font-size="11.3" text-anchor="start" fill="#2b2b2b" style="font-style:italic;" textLength="25.9" lengthAdjust="spacingAndGlyphs"  stroke="#2b2b2b" stroke-width="0.22">JUNB</text>
<text x="59.6" y="196.3" font-size="11.3" text-anchor="start" fill="#2b2b2b" style="font-style:italic;" textLength="36.2" lengthAdjust="spacingAndGlyphs"  stroke="#2b2b2b" stroke-width="0.22">NFATC2</text>
<text x="124.3" y="200.0" font-size="11.3" text-anchor="start" fill="#2b2b2b" style="font-style:italic;" textLength="29.9" lengthAdjust="spacingAndGlyphs"  stroke="#2b2b2b" stroke-width="0.22">FOXP2</text>
<text x="191.3" y="196.3" font-size="11.3" text-anchor="start" fill="#2b2b2b" style="font-style:italic;" textLength="24.1" lengthAdjust="spacingAndGlyphs"  stroke="#2b2b2b" stroke-width="0.22">BCL6</text>
<text x="91.1" y="226.0" font-size="11.3" text-anchor="start" fill="#2b2b2b" style="font-style:italic;" textLength="23.7" lengthAdjust="spacingAndGlyphs"  stroke="#2b2b2b" stroke-width="0.22">ATF3</text>
<text x="163.3" y="225.6" font-size="11.3" text-anchor="start" fill="#2b2b2b" style="font-style:italic;" textLength="30.9" lengthAdjust="spacingAndGlyphs"  stroke="#2b2b2b" stroke-width="0.22">TBX15</text>
<text x="127.4" y="236.3" font-size="11.3" text-anchor="start" fill="#2b2b2b" style="font-style:italic;" textLength="25.0" lengthAdjust="spacingAndGlyphs"  stroke="#2b2b2b" stroke-width="0.22">EGR1</text>
<text x="387.4" y="85.6" font-size="11.3" text-anchor="start" fill="#2b2b2b" style="font-style:italic;" textLength="26.8" lengthAdjust="spacingAndGlyphs"  stroke="#2b2b2b" stroke-width="0.22">RBPJ</text>
<text x="423.7" y="85.6" font-size="11.3" text-anchor="start" fill="#2b2b2b" style="font-style:italic;" textLength="29.3" lengthAdjust="spacingAndGlyphs"  stroke="#2b2b2b" stroke-width="0.22">TRPS1</text>
<text x="351.5" y="99.4" font-size="11.3" text-anchor="start" fill="#2b2b2b" style="font-style:italic;" textLength="37.6" lengthAdjust="spacingAndGlyphs"  stroke="#2b2b2b" stroke-width="0.22">ZBTB16</text>
<text x="454.7" y="100.3" font-size="11.3" text-anchor="start" fill="#2b2b2b" style="font-style:italic;" textLength="37.1" lengthAdjust="spacingAndGlyphs"  stroke="#2b2b2b" stroke-width="0.22">ZNF366</text>
<text x="333.9" y="126.2" font-size="11.3" text-anchor="start" fill="#2b2b2b" style="font-style:italic;" textLength="23.6" lengthAdjust="spacingAndGlyphs"  stroke="#2b2b2b" stroke-width="0.22">CUX1</text>
<text x="483.6" y="126.7" font-size="11.3" text-anchor="start" fill="#2b2b2b" style="font-style:italic;" textLength="23.8" lengthAdjust="spacingAndGlyphs"  stroke="#2b2b2b" stroke-width="0.22">RFX2</text>
<text x="402.1" y="137.4" font-size="11.3" text-anchor="start" fill="#2b2b2b" style="font-style:italic;" textLength="34.9" lengthAdjust="spacingAndGlyphs"  stroke="#2b2b2b" stroke-width="0.22">TCF7L1</text>
<text x="323.0" y="159.8" font-size="11.3" text-anchor="start" fill="#2b2b2b" style="font-style:italic;" textLength="23.8" lengthAdjust="spacingAndGlyphs"  stroke="#2b2b2b" stroke-width="0.22">BCL6</text>
<text x="372.2" y="172.1" font-size="11.3" text-anchor="start" fill="#2b2b2b" style="font-style:italic;" textLength="30.2" lengthAdjust="spacingAndGlyphs"  stroke="#2b2b2b" stroke-width="0.22">FOXO1</text>
<text x="435.2" y="172.1" font-size="11.3" text-anchor="start" fill="#2b2b2b" style="font-style:italic;" textLength="35.9" lengthAdjust="spacingAndGlyphs"  stroke="#2b2b2b" stroke-width="0.22">HIVEP2</text>
<text x="496.7" y="160.7" font-size="11.3" text-anchor="start" fill="#2b2b2b" style="font-style:italic;" textLength="20.7" lengthAdjust="spacingAndGlyphs"  stroke="#2b2b2b" stroke-width="0.22">FLI1</text>
<text x="320.8" y="196.3" font-size="11.3" text-anchor="start" fill="#2b2b2b" style="font-style:italic;" textLength="33.8" lengthAdjust="spacingAndGlyphs"  stroke="#2b2b2b" stroke-width="0.22">SMAD1</text>
<text x="485.3" y="196.3" font-size="11.3" text-anchor="start" fill="#2b2b2b" style="font-style:italic;" textLength="36.8" lengthAdjust="spacingAndGlyphs"  stroke="#2b2b2b" stroke-width="0.22">MECOM</text>
<text x="405.5" y="204.9" font-size="11.3" text-anchor="start" fill="#2b2b2b" style="font-style:italic;" textLength="30.2" lengthAdjust="spacingAndGlyphs"  stroke="#2b2b2b" stroke-width="0.22">FOXP1</text>
<text x="344.9" y="226.8" font-size="11.3" text-anchor="start" fill="#2b2b2b" style="font-style:italic;" textLength="23.9" lengthAdjust="spacingAndGlyphs"  stroke="#2b2b2b" stroke-width="0.22">SOX6</text>
<text x="474.9" y="227.3" font-size="11.3" text-anchor="start" fill="#2b2b2b" style="font-style:italic;" textLength="21.8" lengthAdjust="spacingAndGlyphs"  stroke="#2b2b2b" stroke-width="0.22">MAF</text>
<text x="372.2" y="249.3" font-size="11.3" text-anchor="start" fill="#2b2b2b" style="font-style:italic;" textLength="27.3" lengthAdjust="spacingAndGlyphs"  stroke="#2b2b2b" stroke-width="0.22">JAZF1</text>
<text x="443.5" y="248.4" font-size="11.3" text-anchor="start" fill="#2b2b2b" style="font-style:italic;" textLength="27.3" lengthAdjust="spacingAndGlyphs"  stroke="#2b2b2b" stroke-width="0.22">THRB</text>
<text x="409.3" y="255.6" font-size="11.3" text-anchor="start" fill="#2b2b2b" style="font-style:italic;" textLength="23.5" lengthAdjust="spacingAndGlyphs"  stroke="#2b2b2b" stroke-width="0.22">TCF4</text>
<text x="281.6" y="46.8" font-size="11.6" text-anchor="start" fill="#2b2b2b" style="" textLength="30.2" lengthAdjust="spacingAndGlyphs"  stroke="#2b2b2b" stroke-width="0.22">L-MSC</text>
<text x="275.9" y="94.6" font-size="11.6" text-anchor="start" fill="#2b2b2b" style="" textLength="36.7" lengthAdjust="spacingAndGlyphs"  stroke="#2b2b2b" stroke-width="0.22">SL-MSC</text>
<text x="286.8" y="142.2" font-size="11.6" text-anchor="start" fill="#2b2b2b" style="" textLength="16.4" lengthAdjust="spacingAndGlyphs"  stroke="#2b2b2b" stroke-width="0.22">Per</text>
<text x="288.5" y="190.0" font-size="11.6" text-anchor="start" fill="#2b2b2b" style="" textLength="12.1" lengthAdjust="spacingAndGlyphs"  stroke="#2b2b2b" stroke-width="0.22">EC</text>
<text x="287.6" y="238.0" font-size="11.6" text-anchor="start" fill="#2b2b2b" style="" textLength="15.6" lengthAdjust="spacingAndGlyphs"  stroke="#2b2b2b" stroke-width="0.22">Adi</text>
<text x="285.0" y="286.4" font-size="11.6" text-anchor="start" fill="#2b2b2b" style="" textLength="19.5" lengthAdjust="spacingAndGlyphs"  stroke="#2b2b2b" stroke-width="0.22">Mac</text>
<defs><linearGradient id="gr" x1="0" x2="1"><stop offset="0" stop-color="#f7e4dc"/><stop offset="0.25" stop-color="#edc1b3"/><stop offset="0.5" stop-color="#dd9d92"/><stop offset="0.75" stop-color="#ca6f70"/><stop offset="1" stop-color="#b3424e"/></linearGradient><linearGradient id="gb" x1="0" x2="1"><stop offset="0" stop-color="#d5dfe8"/><stop offset="0.5" stop-color="#8fa3c1"/><stop offset="1" stop-color="#42609a"/></linearGradient></defs>
<text x="314.1" y="302.2" font-size="11.8" text-anchor="start" fill="#333" style="" textLength="109.5" lengthAdjust="spacingAndGlyphs"  stroke="#333" stroke-width="0.22">Upregulated TFs (Hits)</text>
<rect x="332" y="306.5" width="68" height="13.2" fill="url(#gr)"/>
<text x="328.7" y="328.4" font-size="11.5" text-anchor="start" fill="#333" style="" textLength="5.6" lengthAdjust="spacingAndGlyphs"  stroke="#333" stroke-width="0.22">0</text>
<text x="392.7" y="328.4" font-size="11.5" text-anchor="start" fill="#333" style="" textLength="18" lengthAdjust="spacingAndGlyphs"  stroke="#333" stroke-width="0.22">300</text>
<text x="430.5" y="302.2" font-size="11.8" text-anchor="start" fill="#333" style="" textLength="123.5" lengthAdjust="spacingAndGlyphs"  stroke="#333" stroke-width="0.22">Downregulated TFs (Hits)</text>
<rect x="449.3" y="306.3" width="68.4" height="13.1" fill="url(#gb)"/>
<text x="447.0" y="328.4" font-size="11.5" text-anchor="start" fill="#333" style="" textLength="5.6" lengthAdjust="spacingAndGlyphs"  stroke="#333" stroke-width="0.22">0</text>
<text x="511.8" y="328.4" font-size="11.5" text-anchor="start" fill="#333" style="" textLength="18" lengthAdjust="spacingAndGlyphs"  stroke="#333" stroke-width="0.22">120</text>
<rect x="627.4" y="31.4" width="160.80000000000007" height="249.20000000000002" fill="#fdfdfc" stroke="#4a4a4a" stroke-width="1.1"/>
<line x1="624.2" y1="45.8" x2="627.4" y2="45.8" stroke="#4a4a4a" stroke-width="1"/>
<text x="588.5" y="50.6" font-size="14" text-anchor="start" fill="#222" style="font-style:italic;" textLength="32.3" lengthAdjust="spacingAndGlyphs"  stroke="#222" stroke-width="0.3">FOSB</text>
<line x1="624.2" y1="70.2" x2="627.4" y2="70.2" stroke="#4a4a4a" stroke-width="1"/>
<text x="597.4" y="75.0" font-size="14" text-anchor="start" fill="#222" style="font-style:italic;" textLength="23.4" lengthAdjust="spacingAndGlyphs"  stroke="#222" stroke-width="0.3">FOS</text>
<line x1="624.2" y1="94.7" x2="627.4" y2="94.7" stroke="#4a4a4a" stroke-width="1"/>
<text x="560.9" y="99.5" font-size="14" text-anchor="start" fill="#222" style="font-style:italic;" textLength="59.9" lengthAdjust="spacingAndGlyphs"  stroke="#222" stroke-width="0.3">BHLHE40</text>
<line x1="624.2" y1="119.1" x2="627.4" y2="119.1" stroke="#4a4a4a" stroke-width="1"/>
<text x="588.0" y="123.9" font-size="14" text-anchor="start" fill="#222" style="font-style:italic;" textLength="32.8" lengthAdjust="spacingAndGlyphs"  stroke="#222" stroke-width="0.3">EGR1</text>
<line x1="624.2" y1="143.6" x2="627.4" y2="143.6" stroke="#4a4a4a" stroke-width="1"/>
<text x="572.9" y="148.4" font-size="14" text-anchor="start" fill="#222" style="font-style:italic;" textLength="47.9" lengthAdjust="spacingAndGlyphs"  stroke="#222" stroke-width="0.3">NFATC1</text>
<line x1="624.2" y1="168.0" x2="627.4" y2="168.0" stroke="#4a4a4a" stroke-width="1"/>
<text x="584.5" y="172.8" font-size="14" text-anchor="start" fill="#222" style="font-style:italic;" textLength="36.3" lengthAdjust="spacingAndGlyphs"  stroke="#222" stroke-width="0.3">JAZF1</text>
<line x1="624.2" y1="192.5" x2="627.4" y2="192.5" stroke="#4a4a4a" stroke-width="1"/>
<text x="573.8" y="197.3" font-size="14" text-anchor="start" fill="#222" style="font-style:italic;" textLength="47.0" lengthAdjust="spacingAndGlyphs"  stroke="#222" stroke-width="0.3">HIVEP2</text>
<line x1="624.2" y1="216.9" x2="627.4" y2="216.9" stroke="#4a4a4a" stroke-width="1"/>
<text x="574.4" y="221.7" font-size="14" text-anchor="start" fill="#222" style="font-style:italic;" textLength="46.4" lengthAdjust="spacingAndGlyphs"  stroke="#222" stroke-width="0.3">TCF7L1</text>
<line x1="624.2" y1="241.4" x2="627.4" y2="241.4" stroke="#4a4a4a" stroke-width="1"/>
<text x="580.6" y="246.2" font-size="14" text-anchor="start" fill="#222" style="font-style:italic;" textLength="40.2" lengthAdjust="spacingAndGlyphs"  stroke="#222" stroke-width="0.3">FOXP1</text>
<line x1="624.2" y1="265.8" x2="627.4" y2="265.8" stroke="#4a4a4a" stroke-width="1"/>
<text x="580.3" y="270.6" font-size="14" text-anchor="start" fill="#222" style="font-style:italic;" textLength="40.5" lengthAdjust="spacingAndGlyphs"  stroke="#222" stroke-width="0.3">FOXO1</text>
<line x1="643.1" y1="280.6" x2="643.1" y2="284" stroke="#4a4a4a" stroke-width="1"/>
<text transform="translate(647.9,327.6) rotate(-90)" font-size="14" fill="#222" textLength="39.8" lengthAdjust="spacingAndGlyphs" stroke="#222" stroke-width="0.3">L-MSC</text>
<line x1="669.0" y1="280.6" x2="669.0" y2="284" stroke="#4a4a4a" stroke-width="1"/>
<text transform="translate(673.8,335.0) rotate(-90)" font-size="14" fill="#222" textLength="47.2" lengthAdjust="spacingAndGlyphs" stroke="#222" stroke-width="0.3">SL-MSC</text>
<line x1="694.8" y1="280.6" x2="694.8" y2="284" stroke="#4a4a4a" stroke-width="1"/>
<text transform="translate(699.6,308.4) rotate(-90)" font-size="14" fill="#222" textLength="20.6" lengthAdjust="spacingAndGlyphs" stroke="#222" stroke-width="0.3">Per</text>
<line x1="720.6" y1="280.6" x2="720.6" y2="284" stroke="#4a4a4a" stroke-width="1"/>
<text transform="translate(725.4,302.3) rotate(-90)" font-size="14" fill="#222" textLength="14.5" lengthAdjust="spacingAndGlyphs" stroke="#222" stroke-width="0.3">EC</text>
<line x1="746.6" y1="280.6" x2="746.6" y2="284" stroke="#4a4a4a" stroke-width="1"/>
<text transform="translate(751.4,308.4) rotate(-90)" font-size="14" fill="#222" textLength="20.6" lengthAdjust="spacingAndGlyphs" stroke="#222" stroke-width="0.3">Adi</text>
<line x1="772.5" y1="280.6" x2="772.5" y2="284" stroke="#4a4a4a" stroke-width="1"/>
<text transform="translate(777.3,312.8) rotate(-90)" font-size="14" fill="#222" textLength="25.0" lengthAdjust="spacingAndGlyphs" stroke="#222" stroke-width="0.3">Mac</text>
<circle cx="669.0" cy="45.8" r="8.20" fill="#c0555c"/>
<circle cx="694.8" cy="45.8" r="4.90" fill="#dc9090"/>
<circle cx="720.6" cy="45.8" r="4.40" fill="#c4575e"/>
<circle cx="772.5" cy="45.8" r="6.80" fill="#e4a8a8"/>
<circle cx="669.0" cy="70.2" r="7.80" fill="#cc6f72"/>
<circle cx="694.8" cy="70.2" r="4.50" fill="#eab8b5"/>
<circle cx="746.6" cy="70.2" r="4.50" fill="#d88080"/>
<circle cx="772.5" cy="70.2" r="6.15" fill="#e4a5a3"/>
<circle cx="643.1" cy="94.7" r="3.85" fill="#e6a9a6"/>
<circle cx="669.0" cy="94.7" r="3.20" fill="#e2a2a0"/>
<circle cx="694.8" cy="94.7" r="2.30" fill="#d88080"/>
<circle cx="772.5" cy="94.7" r="6.70" fill="#ebc0bd"/>
<circle cx="669.0" cy="119.1" r="4.60" fill="#c14d55"/>
<circle cx="694.8" cy="119.1" r="3.85" fill="#dc8c8c"/>
<circle cx="720.6" cy="119.1" r="2.95" fill="#df9595"/>
<circle cx="746.6" cy="119.1" r="4.95" fill="#c04a53"/>
<circle cx="669.0" cy="143.6" r="8.10" fill="#ebbcbc"/>
<circle cx="720.6" cy="143.6" r="8.10" fill="#ebbdbc"/>
<circle cx="669.0" cy="168.0" r="5.25" fill="#a8b4d0"/>
<circle cx="669.0" cy="192.5" r="6.00" fill="#9dacce"/>
<circle cx="772.5" cy="192.5" r="2.10" fill="#d88888"/>
<circle cx="669.0" cy="216.9" r="6.90" fill="#9fadd0"/>
<circle cx="643.1" cy="241.4" r="3.70" fill="#9eaccb"/>
<circle cx="772.5" cy="241.4" r="5.30" fill="#a9b7d3"/>
<circle cx="643.1" cy="265.8" r="3.50" fill="#6f86b8"/>
<circle cx="669.0" cy="265.8" r="6.65" fill="#bcc8de"/>
<circle cx="746.6" cy="265.8" r="3.85" fill="#7088ba"/>
<text transform="translate(558.6,163.5) rotate(-90)" font-size="14" text-anchor="middle" fill="#222" stroke="#222" stroke-width="0.3">TF</text>
<text x="806.3" y="66.2" font-size="14.4" fill="#222" stroke="#222" stroke-width="0.3">Log<tspan font-size="9" dy="3.6">2</tspan><tspan dy="-3.6">FC</tspan></text>
<defs><linearGradient id="gfc" x1="0" y1="0" x2="0" y2="1"><stop offset="0" stop-color="#b5404b"/><stop offset="0.25" stop-color="#d88c8f"/><stop offset="0.47" stop-color="#fbf3f2"/><stop offset="0.53" stop-color="#f3f5fa"/><stop offset="0.75" stop-color="#9dafcf"/><stop offset="1" stop-color="#3c5996"/></linearGradient></defs>
<rect x="817.9" y="82.2" width="13.8" height="68.5" fill="url(#gfc)"/>
<text x="834.2" y="86.6" font-size="14" text-anchor="start" fill="#222" style=""  stroke="#222" stroke-width="0.3">1</text>
<text x="833.8" y="119.4" font-size="14" text-anchor="start" fill="#222" style=""  stroke="#222" stroke-width="0.3">0</text>
<text x="833.6" y="153.8" font-size="14" text-anchor="start" fill="#222" style=""  stroke="#222" stroke-width="0.3">−1</text>
<text x="799.2" y="180.2" font-size="14" text-anchor="start" fill="#222" style="" textLength="80.7" lengthAdjust="spacingAndGlyphs"  stroke="#222" stroke-width="0.3">Target genes</text>
<circle cx="823" cy="194" r="4.85" fill="#b1b1aa"/>
<text x="833.3" y="198.8" font-size="14" text-anchor="start" fill="#222" style="" textLength="15.5" lengthAdjust="spacingAndGlyphs"  stroke="#222" stroke-width="0.3">50</text>
<circle cx="823" cy="208.5" r="6.7" fill="#b1b1aa"/>
<text x="833.3" y="213.3" font-size="14" text-anchor="start" fill="#222" style="" textLength="23.5" lengthAdjust="spacingAndGlyphs"  stroke="#222" stroke-width="0.3">100</text>
<circle cx="823" cy="225.1" r="7.85" fill="#b1b1aa"/>
<text x="833.3" y="229.9" font-size="14" text-anchor="start" fill="#222" style="" textLength="23.5" lengthAdjust="spacingAndGlyphs"  stroke="#222" stroke-width="0.3">150</text>
<rect x="52.6" y="373.3" width="366.0" height="176.8" fill="#fdfdfc" stroke="#4a4a4a" stroke-width="1.2"/>
<line x1="50.3" y1="540.1" x2="52.6" y2="540.1" stroke="#4a4a4a" stroke-width="1"/>
<text x="47.2" y="544.9" font-size="14" text-anchor="end" fill="#222" style=""  stroke="#222" stroke-width="0.3">0</text>
<line x1="50.3" y1="499.0" x2="52.6" y2="499.0" stroke="#4a4a4a" stroke-width="1"/>
<text x="47.2" y="503.8" font-size="14" text-anchor="end" fill="#222" style=""  stroke="#222" stroke-width="0.3">1</text>
<line x1="50.3" y1="457.9" x2="52.6" y2="457.9" stroke="#4a4a4a" stroke-width="1"/>
<text x="47.2" y="462.7" font-size="14" text-anchor="end" fill="#222" style=""  stroke="#222" stroke-width="0.3">2</text>
<line x1="50.3" y1="416.8" x2="52.6" y2="416.8" stroke="#4a4a4a" stroke-width="1"/>
<text x="47.2" y="421.6" font-size="14" text-anchor="end" fill="#222" style=""  stroke="#222" stroke-width="0.3">3</text>
<line x1="50.3" y1="375.7" x2="52.6" y2="375.7" stroke="#4a4a4a" stroke-width="1"/>
<text x="47.2" y="380.5" font-size="14" text-anchor="end" fill="#222" style=""  stroke="#222" stroke-width="0.3">4</text>
<text transform="translate(33.6,463.2) rotate(-90)" font-size="14" text-anchor="middle" fill="#222" textLength="119" lengthAdjust="spacingAndGlyphs" stroke="#222" stroke-width="0.3"><tspan font-style="italic">FOXO1</tspan> mRNA level</text>
<line x1="79.5" y1="550.1" x2="79.5" y2="552.6" stroke="#4a4a4a" stroke-width="1"/>
<text transform="translate(86.5,563.3) rotate(-45)" font-size="13.3" text-anchor="end" fill="#222" stroke="#222" stroke-width="0.3">L-MSC</text>
<line x1="124.1" y1="550.1" x2="124.1" y2="552.6" stroke="#4a4a4a" stroke-width="1"/>
<text transform="translate(131.1,563.3) rotate(-45)" font-size="13.3" text-anchor="end" fill="#222" stroke="#222" stroke-width="0.3">SL-MSC</text>
<line x1="168.7" y1="550.1" x2="168.7" y2="552.6" stroke="#4a4a4a" stroke-width="1"/>
<text transform="translate(175.7,563.3) rotate(-45)" font-size="13.3" text-anchor="end" fill="#222" stroke="#222" stroke-width="0.3">Per</text>
<line x1="213.2" y1="550.1" x2="213.2" y2="552.6" stroke="#4a4a4a" stroke-width="1"/>
<text transform="translate(220.2,563.3) rotate(-45)" font-size="13.3" text-anchor="end" fill="#222" stroke="#222" stroke-width="0.3">SMC</text>
<line x1="257.8" y1="550.1" x2="257.8" y2="552.6" stroke="#4a4a4a" stroke-width="1"/>
<text transform="translate(264.8,563.3) rotate(-45)" font-size="13.3" text-anchor="end" fill="#222" stroke="#222" stroke-width="0.3">EC</text>
<line x1="302.4" y1="550.1" x2="302.4" y2="552.6" stroke="#4a4a4a" stroke-width="1"/>
<text transform="translate(309.4,563.3) rotate(-45)" font-size="13.3" text-anchor="end" fill="#222" stroke="#222" stroke-width="0.3">Adi</text>
<line x1="347.0" y1="550.1" x2="347.0" y2="552.6" stroke="#4a4a4a" stroke-width="1"/>
<text transform="translate(354.0,563.3) rotate(-45)" font-size="13.3" text-anchor="end" fill="#222" stroke="#222" stroke-width="0.3">Mac</text>
<line x1="391.6" y1="550.1" x2="391.6" y2="552.6" stroke="#4a4a4a" stroke-width="1"/>
<text transform="translate(398.6,563.3) rotate(-45)" font-size="13.3" text-anchor="end" fill="#222" stroke="#222" stroke-width="0.3">TC</text>
<line x1="71.1" y1="404.2" x2="71.1" y2="418.9" stroke="#3a3a3a" stroke-width="1.3"/>
<line x1="71.1" y1="482.0" x2="71.1" y2="515.1" stroke="#3a3a3a" stroke-width="1.3"/>
<path d="M66.65,418.90L66.65,443.60L68.25,449.60L66.65,455.60L66.65,482.00L75.55,482.00L75.55,455.60L73.95,449.60L75.55,443.60L75.55,418.90Z" fill="#4c7f68" stroke="#4c7f68" stroke-width="0.8" stroke-linejoin="round"/>
<line x1="67.55" y1="449.6" x2="74.65" y2="449.6" stroke="#fdfdfc" stroke-width="2.4"/>
<line x1="87.8" y1="416.3" x2="87.8" y2="439.6" stroke="#3a3a3a" stroke-width="1.3"/>
<line x1="87.8" y1="499.2" x2="87.8" y2="515.1" stroke="#3a3a3a" stroke-width="1.3"/>
<path d="M83.35,439.60L83.35,462.30L84.95,467.80L83.35,473.30L83.35,499.20L92.25,499.20L92.25,473.30L90.65,467.80L92.25,462.30L92.25,439.60Z" fill="#d2633f" stroke="#d2633f" stroke-width="0.8" stroke-linejoin="round"/>
<line x1="84.25" y1="467.8" x2="91.35" y2="467.8" stroke="#fdfdfc" stroke-width="2.4"/>
<line x1="115.7" y1="406.5" x2="115.7" y2="451.9" stroke="#3a3a3a" stroke-width="1.3"/>
<path d="M111.25,451.90L111.25,475.50L112.15,478.50L111.25,481.50L111.25,540.10L120.15,540.10L120.15,481.50L119.25,478.50L120.15,475.50L120.15,451.90Z" fill="#4c7f68" stroke="#4c7f68" stroke-width="0.8" stroke-linejoin="round"/>
<line x1="111.45" y1="478.5" x2="119.95" y2="478.5" stroke="#fdfdfc" stroke-width="2.4"/>
<line x1="132.4" y1="416.3" x2="132.4" y2="460.8" stroke="#3a3a3a" stroke-width="1.3"/>
<path d="M127.95,460.80L127.95,483.80L128.85,486.80L127.95,489.80L127.95,540.10L136.85,540.10L136.85,489.80L135.95,486.80L136.85,483.80L136.85,460.80Z" fill="#d2633f" stroke="#d2633f" stroke-width="0.8" stroke-linejoin="round"/>
<line x1="128.15" y1="486.8" x2="136.65" y2="486.8" stroke="#fdfdfc" stroke-width="2.4"/>
<line x1="160.3" y1="440.5" x2="160.3" y2="482.8" stroke="#3a3a3a" stroke-width="1.3"/>
<path d="M155.85,482.80L155.85,535.60L157.85,540.10L155.85,544.60L155.85,540.10L164.75,540.10L164.75,544.60L162.75,540.10L164.75,535.60L164.75,482.80Z" fill="#4c7f68" stroke="#4c7f68" stroke-width="0.8" stroke-linejoin="round"/>
<line x1="157.15" y1="540.1" x2="163.45" y2="540.1" stroke="#fdfdfc" stroke-width="2.4"/>
<line x1="177.0" y1="445.1" x2="177.0" y2="486.5" stroke="#3a3a3a" stroke-width="1.3"/>
<path d="M172.55,486.50L172.55,535.60L174.55,540.10L172.55,544.60L172.55,540.10L181.45,540.10L181.45,544.60L179.45,540.10L181.45,535.60L181.45,486.50Z" fill="#d2633f" stroke="#d2633f" stroke-width="0.8" stroke-linejoin="round"/>
<line x1="173.85" y1="540.1" x2="180.15" y2="540.1" stroke="#fdfdfc" stroke-width="2.4"/>
<line x1="204.8" y1="443.8" x2="204.8" y2="483.4" stroke="#3a3a3a" stroke-width="1.3"/>
<path d="M200.35,483.40L200.35,534.60L202.65,540.10L200.35,545.60L200.35,540.10L209.25,540.10L209.25,545.60L206.95,540.10L209.25,534.60L209.25,483.40Z" fill="#4c7f68" stroke="#4c7f68" stroke-width="0.8" stroke-linejoin="round"/>
<line x1="201.95" y1="540.1" x2="207.65" y2="540.1" stroke="#fdfdfc" stroke-width="2.4"/>
<line x1="221.5" y1="455.7" x2="221.5" y2="493.1" stroke="#3a3a3a" stroke-width="1.3"/>
<path d="M217.05,493.10L217.05,535.10L219.05,540.10L217.05,545.10L217.05,540.10L225.95,540.10L225.95,545.10L223.95,540.10L225.95,535.10L225.95,493.10Z" fill="#d2633f" stroke="#d2633f" stroke-width="0.8" stroke-linejoin="round"/>
<line x1="218.35" y1="540.1" x2="224.65" y2="540.1" stroke="#fdfdfc" stroke-width="2.4"/>
<line x1="249.4" y1="418.6" x2="249.4" y2="439.7" stroke="#3a3a3a" stroke-width="1.3"/>
<line x1="249.4" y1="495.7" x2="249.4" y2="514.7" stroke="#3a3a3a" stroke-width="1.3"/>
<path d="M244.95,439.70L244.95,458.80L246.15,461.80L244.95,464.80L244.95,495.70L253.85,495.70L253.85,464.80L252.65,461.80L253.85,458.80L253.85,439.70Z" fill="#4c7f68" stroke="#4c7f68" stroke-width="0.8" stroke-linejoin="round"/>
<line x1="245.45" y1="461.8" x2="253.35" y2="461.8" stroke="#fdfdfc" stroke-width="2.4"/>
<line x1="266.1" y1="414.7" x2="266.1" y2="438.8" stroke="#3a3a3a" stroke-width="1.3"/>
<line x1="266.1" y1="488.3" x2="266.1" y2="514.7" stroke="#3a3a3a" stroke-width="1.3"/>
<path d="M261.65,438.80L261.65,458.40L262.85,461.40L261.65,464.40L261.65,488.30L270.55,488.30L270.55,464.40L269.35,461.40L270.55,458.40L270.55,438.80Z" fill="#d2633f" stroke="#d2633f" stroke-width="0.8" stroke-linejoin="round"/>
<line x1="262.15" y1="461.4" x2="270.05" y2="461.4" stroke="#fdfdfc" stroke-width="2.4"/>
<line x1="294.0" y1="408.8" x2="294.0" y2="419.3" stroke="#3a3a3a" stroke-width="1.3"/>
<line x1="294.0" y1="461.6" x2="294.0" y2="493.0" stroke="#3a3a3a" stroke-width="1.3"/>
<path d="M289.55,419.30L289.55,434.00L290.95,438.00L289.55,442.00L289.55,461.60L298.45,461.60L298.45,442.00L297.05,438.00L298.45,434.00L298.45,419.30Z" fill="#4c7f68" stroke="#4c7f68" stroke-width="0.8" stroke-linejoin="round"/>
<line x1="290.25" y1="438.0" x2="297.75" y2="438.0" stroke="#fdfdfc" stroke-width="2.4"/>
<line x1="310.7" y1="424.5" x2="310.7" y2="435.3" stroke="#3a3a3a" stroke-width="1.3"/>
<line x1="310.7" y1="481.4" x2="310.7" y2="515.0" stroke="#3a3a3a" stroke-width="1.3"/>
<path d="M306.25,435.30L306.25,451.90L307.65,455.90L306.25,459.90L306.25,481.40L315.15,481.40L315.15,459.90L313.75,455.90L315.15,451.90L315.15,435.30Z" fill="#d2633f" stroke="#d2633f" stroke-width="0.8" stroke-linejoin="round"/>
<line x1="306.95" y1="455.9" x2="314.45" y2="455.9" stroke="#fdfdfc" stroke-width="2.4"/>
<line x1="338.6" y1="408.3" x2="338.6" y2="455.8" stroke="#3a3a3a" stroke-width="1.3"/>
<path d="M334.15,455.80L334.15,483.10L335.55,487.60L334.15,492.10L334.15,540.30L343.05,540.30L343.05,492.10L341.65,487.60L343.05,483.10L343.05,455.80Z" fill="#4c7f68" stroke="#4c7f68" stroke-width="0.8" stroke-linejoin="round"/>
<line x1="334.85" y1="487.6" x2="342.35" y2="487.6" stroke="#fdfdfc" stroke-width="2.4"/>
<line x1="355.3" y1="414.3" x2="355.3" y2="443.2" stroke="#3a3a3a" stroke-width="1.3"/>
<path d="M350.85,443.20L350.85,475.50L352.25,480.50L350.85,485.50L350.85,540.30L359.75,540.30L359.75,485.50L358.35,480.50L359.75,475.50L359.75,443.20Z" fill="#d2633f" stroke="#d2633f" stroke-width="0.8" stroke-linejoin="round"/>
<line x1="351.55" y1="480.5" x2="359.05" y2="480.5" stroke="#fdfdfc" stroke-width="2.4"/>
<line x1="383.2" y1="432.2" x2="383.2" y2="441.4" stroke="#3a3a3a" stroke-width="1.3"/>
<path d="M378.75,441.40L378.75,451.00L380.75,467.00L378.75,483.00L378.75,540.30L387.65,540.30L387.65,483.00L385.65,467.00L387.65,451.00L387.65,441.40Z" fill="#4c7f68" stroke="#4c7f68" stroke-width="0.8" stroke-linejoin="round"/>
<line x1="380.05" y1="467.0" x2="386.35" y2="467.0" stroke="#fdfdfc" stroke-width="2.4"/>
<line x1="399.9" y1="429.4" x2="399.9" y2="447.5" stroke="#3a3a3a" stroke-width="1.3"/>
<path d="M395.45,447.50L395.45,466.90L397.45,482.90L395.45,498.90L395.45,540.30L404.35,540.30L404.35,498.90L402.35,482.90L404.35,466.90L404.35,447.50Z" fill="#d2633f" stroke="#d2633f" stroke-width="0.8" stroke-linejoin="round"/>
<line x1="396.75" y1="482.9" x2="403.05" y2="482.9" stroke="#fdfdfc" stroke-width="2.4"/>
<text x="54.7" y="385.9" font-size="9.2" fill="#333" textLength="46.5" lengthAdjust="spacingAndGlyphs" stroke="#333" stroke-width="0.12"><tspan font-style="italic">P</tspan> = 1.3 × 10<tspan dy="-3.2" font-size="5.5">−8</tspan></text>
<text x="104.4" y="385.9" font-size="9.2" fill="#333" textLength="47.6" lengthAdjust="spacingAndGlyphs" stroke="#333" stroke-width="0.12"><tspan font-style="italic">P</tspan> &lt; 2 × 10<tspan dy="-3.2" font-size="5.5">−16</tspan></text>
<text x="153.8" y="385.9" font-size="9.2" fill="#333" textLength="37.4" lengthAdjust="spacingAndGlyphs" stroke="#333" stroke-width="0.12"><tspan font-style="italic">P</tspan> = 0.8302</text>
<text x="195.0" y="385.9" font-size="9.2" fill="#333" textLength="37.3" lengthAdjust="spacingAndGlyphs" stroke="#333" stroke-width="0.12"><tspan font-style="italic">P</tspan> = 0.4154</text>
<text x="239.6" y="385.9" font-size="9.2" fill="#333" textLength="36.9" lengthAdjust="spacingAndGlyphs" stroke="#333" stroke-width="0.12"><tspan font-style="italic">P</tspan> = 0.4385</text>
<text x="279.5" y="385.9" font-size="9.2" fill="#333" textLength="43.2" lengthAdjust="spacingAndGlyphs" stroke="#333" stroke-width="0.12"><tspan font-style="italic">P</tspan> = 6 × 10<tspan dy="-3.2" font-size="5.5">−11</tspan></text>
<text x="323.8" y="385.9" font-size="9.2" fill="#333" textLength="45.9" lengthAdjust="spacingAndGlyphs" stroke="#333" stroke-width="0.12"><tspan font-style="italic">P</tspan> = 1.9 × 10<tspan dy="-3.2" font-size="5.5">−6</tspan></text>
<text x="371.2" y="385.9" font-size="9.2" fill="#333" textLength="46.4" lengthAdjust="spacingAndGlyphs" stroke="#333" stroke-width="0.12"><tspan font-style="italic">P</tspan> = 1.9 × 10<tspan dy="-3.2" font-size="5.5">−6</tspan></text>
<line x1="71.0" y1="389.9" x2="88.0" y2="389.9" stroke="#333" stroke-width="1.8"/>
<line x1="115.6" y1="389.9" x2="132.6" y2="389.9" stroke="#333" stroke-width="1.8"/>
<line x1="160.2" y1="389.9" x2="177.2" y2="389.9" stroke="#333" stroke-width="1.8"/>
<line x1="204.7" y1="389.9" x2="221.7" y2="389.9" stroke="#333" stroke-width="1.8"/>
<line x1="249.3" y1="389.9" x2="266.3" y2="389.9" stroke="#333" stroke-width="1.8"/>
<line x1="293.9" y1="389.9" x2="310.9" y2="389.9" stroke="#333" stroke-width="1.8"/>
<line x1="338.5" y1="389.9" x2="355.5" y2="389.9" stroke="#333" stroke-width="1.8"/>
<line x1="383.1" y1="389.9" x2="400.1" y2="389.9" stroke="#333" stroke-width="1.8"/>
<rect x="324" y="355.8" width="12.7" height="12.5" fill="#4c7f68"/>
<text x="340.5" y="365.4" font-size="11.2" text-anchor="start" fill="#222" style="" textLength="28.9" lengthAdjust="spacingAndGlyphs"  stroke="#222" stroke-width="0.22">Young</text>
<rect x="373.7" y="355.8" width="12.7" height="12.5" fill="#d2633f"/>
<text x="390.6" y="365.4" font-size="11.2" text-anchor="start" fill="#222" style="" textLength="23.9" lengthAdjust="spacingAndGlyphs"  stroke="#222" stroke-width="0.22">Aged</text>
<text x="464.5" y="372.7" font-size="15" text-anchor="start" fill="#5b4331" style="" textLength="42.6" lengthAdjust="spacingAndGlyphs"  stroke="#5b4331" stroke-width="0.3">FOXO1</text>
<text transform="translate(458.5,415.4) rotate(-90)" font-size="14" text-anchor="middle" fill="#222" textLength="39.6" lengthAdjust="spacingAndGlyphs" stroke="#222" stroke-width="0.3">Young</text>
<text transform="translate(457.0,497.3) rotate(-90)" font-size="14" text-anchor="middle" fill="#222" textLength="31.8" lengthAdjust="spacingAndGlyphs" stroke="#222" stroke-width="0.3">Aged</text>
<defs><filter id="soft" x="-20%" y="-20%" width="140%" height="140%"><feGaussianBlur stdDeviation="0.45"/></filter></defs>
<rect x="463.2" y="377.7" width="78.69999999999999" height="78.5" fill="#e7e5dd"/>
<rect x="476.5" y="428.2" width="1.6" height="1.3" fill="#6d7fc2" opacity="0.7"/>
<rect x="492.5" y="384.0" width="1.6" height="1.3" fill="#6d7fc2" opacity="0.7"/>
<rect x="478.5" y="384.9" width="1.6" height="1.3" fill="#6d7fc2" opacity="0.7"/>
<rect x="527.0" y="388.9" width="1.6" height="1.3" fill="#6d7fc2" opacity="0.7"/>
<rect x="536.0" y="422.7" width="1.6" height="1.3" fill="#6d7fc2" opacity="0.7"/>
<rect x="468.7" y="443.7" width="1.6" height="1.3" fill="#6d7fc2" opacity="0.7"/>
<rect x="470.3" y="402.7" width="1.6" height="1.3" fill="#6d7fc2" opacity="0.7"/>
<rect x="482.3" y="427.3" width="1.6" height="1.3" fill="#6d7fc2" opacity="0.7"/>
<rect x="469.9" y="384.1" width="1.6" height="1.3" fill="#6d7fc2" opacity="0.7"/>
<rect x="497.1" y="403.1" width="1.6" height="1.3" fill="#6d7fc2" opacity="0.7"/>
<rect x="487.6" y="438.9" width="1.6" height="1.3" fill="#6d7fc2" opacity="0.7"/>
<rect x="482.1" y="418.8" width="1.6" height="1.3" fill="#9a8a6a" opacity="0.7"/>
<rect x="486.7" y="452.7" width="1.6" height="1.3" fill="#6d7fc2" opacity="0.7"/>
<rect x="521.8" y="391.0" width="1.6" height="1.3" fill="#6d7fc2" opacity="0.7"/>
<rect x="484.6" y="436.7" width="1.6" height="1.3" fill="#6d7fc2" opacity="0.7"/>
<rect x="488.6" y="431.5" width="1.6" height="1.3" fill="#6d7fc2" opacity="0.7"/>
<rect x="499.3" y="442.3" width="1.6" height="1.3" fill="#9a8a6a" opacity="0.7"/>
<rect x="514.8" y="384.2" width="1.6" height="1.3" fill="#6d7fc2" opacity="0.7"/>
<rect x="539.4" y="440.9" width="1.6" height="1.3" fill="#6d7fc2" opacity="0.7"/>
<rect x="515.1" y="381.4" width="1.6" height="1.3" fill="#6d7fc2" opacity="0.7"/>
<rect x="470.2" y="384.1" width="1.6" height="1.3" fill="#6d7fc2" opacity="0.7"/>
<rect x="473.6" y="408.8" width="1.6" height="1.3" fill="#9a8a6a" opacity="0.7"/>
<rect x="478.9" y="420.6" width="1.6" height="1.3" fill="#9a8a6a" opacity="0.7"/>
<rect x="529.7" y="400.4" width="1.6" height="1.3" fill="#6d7fc2" opacity="0.7"/>
<rect x="531.2" y="451.1" width="1.6" height="1.3" fill="#6d7fc2" opacity="0.7"/>
<rect x="473.2" y="397.1" width="1.6" height="1.3" fill="#6d7fc2" opacity="0.7"/>
<rect x="484.8" y="380.0" width="1.6" height="1.3" fill="#6d7fc2" opacity="0.7"/>
<rect x="507.5" y="450.7" width="1.6" height="1.3" fill="#6d7fc2" opacity="0.7"/>
<rect x="511.3" y="430.1" width="1.6" height="1.3" fill="#6d7fc2" opacity="0.7"/>
<rect x="523.5" y="444.9" width="1.6" height="1.3" fill="#6d7fc2" opacity="0.7"/>
<rect x="495.0" y="387.4" width="1.6" height="1.3" fill="#6d7fc2" opacity="0.7"/>
<rect x="469.0" y="395.3" width="1.6" height="1.3" fill="#6d7fc2" opacity="0.7"/>
<rect x="469.1" y="379.7" width="1.6" height="1.3" fill="#6d7fc2" opacity="0.7"/>
<rect x="476.7" y="381.6" width="1.6" height="1.3" fill="#9a8a6a" opacity="0.7"/>
<rect x="476.3" y="398.5" width="1.6" height="1.3" fill="#6d7fc2" opacity="0.7"/>
<rect x="474.4" y="442.9" width="1.6" height="1.3" fill="#9a8a6a" opacity="0.7"/>
<rect x="501.3" y="386.1" width="1.6" height="1.3" fill="#6d7fc2" opacity="0.7"/>
<rect x="485.0" y="441.4" width="1.6" height="1.3" fill="#6d7fc2" opacity="0.7"/>
<rect x="491.9" y="419.1" width="1.6" height="1.3" fill="#6d7fc2" opacity="0.7"/>
<rect x="467.2" y="419.0" width="1.6" height="1.3" fill="#9a8a6a" opacity="0.7"/>
<rect x="517.2" y="399.2" width="1.6" height="1.3" fill="#6d7fc2" opacity="0.7"/>
<rect x="487.3" y="419.4" width="1.6" height="1.3" fill="#6d7fc2" opacity="0.7"/>
<rect x="481.9" y="440.2" width="1.6" height="1.3" fill="#9a8a6a" opacity="0.7"/>
<rect x="525.4" y="440.7" width="1.6" height="1.3" fill="#6d7fc2" opacity="0.7"/>
<rect x="480.7" y="406.2" width="1.6" height="1.3" fill="#6d7fc2" opacity="0.7"/>
<rect x="474.5" y="399.0" width="1.6" height="1.3" fill="#6d7fc2" opacity="0.7"/>
<rect x="498.6" y="449.5" width="1.6" height="1.3" fill="#9a8a6a" opacity="0.7"/>
<rect x="492.4" y="396.1" width="1.6" height="1.3" fill="#6d7fc2" opacity="0.7"/>
<rect x="472.5" y="426.2" width="1.6" height="1.3" fill="#9a8a6a" opacity="0.7"/>
<rect x="501.0" y="428.3" width="1.6" height="1.3" fill="#6d7fc2" opacity="0.7"/>
<rect x="484.4" y="447.5" width="1.6" height="1.3" fill="#6d7fc2" opacity="0.7"/>
<rect x="500.9" y="393.0" width="1.6" height="1.3" fill="#6d7fc2" opacity="0.7"/>
<rect x="525.0" y="452.1" width="1.6" height="1.3" fill="#6d7fc2" opacity="0.7"/>
<rect x="535.9" y="433.7" width="1.6" height="1.3" fill="#6d7fc2" opacity="0.7"/>
<rect x="471.1" y="447.1" width="1.6" height="1.3" fill="#6d7fc2" opacity="0.7"/>
<rect x="488.7" y="452.7" width="1.6" height="1.3" fill="#6d7fc2" opacity="0.7"/>
<rect x="506.2" y="389.5" width="1.6" height="1.3" fill="#6d7fc2" opacity="0.7"/>
<rect x="513.7" y="418.9" width="1.6" height="1.3" fill="#9a8a6a" opacity="0.7"/>
<rect x="530.3" y="441.2" width="1.6" height="1.3" fill="#6d7fc2" opacity="0.7"/>
<rect x="474.8" y="397.6" width="1.6" height="1.3" fill="#6d7fc2" opacity="0.7"/>
<rect x="478.1" y="389.5" width="1.6" height="1.3" fill="#9a8a6a" opacity="0.7"/>
<rect x="499.4" y="423.2" width="1.6" height="1.3" fill="#9a8a6a" opacity="0.7"/>
<rect x="533.8" y="417.1" width="1.6" height="1.3" fill="#6d7fc2" opacity="0.7"/>
<rect x="466.6" y="412.5" width="1.6" height="1.3" fill="#6d7fc2" opacity="0.7"/>
<rect x="488.0" y="392.5" width="1.6" height="1.3" fill="#6d7fc2" opacity="0.7"/>
<rect x="506.8" y="404.0" width="1.6" height="1.3" fill="#6d7fc2" opacity="0.7"/>
<rect x="523.8" y="387.6" width="1.6" height="1.3" fill="#6d7fc2" opacity="0.7"/>
<rect x="474.4" y="437.2" width="1.6" height="1.3" fill="#6d7fc2" opacity="0.7"/>
<rect x="522.0" y="447.7" width="1.6" height="1.3" fill="#6d7fc2" opacity="0.7"/>
<rect x="503.0" y="417.9" width="1.6" height="1.3" fill="#6d7fc2" opacity="0.7"/>
<rect x="505.0" y="415.3" width="1.6" height="1.3" fill="#9a8a6a" opacity="0.7"/>
<rect x="530.7" y="449.9" width="1.6" height="1.3" fill="#6d7fc2" opacity="0.7"/>
<rect x="535.7" y="442.3" width="1.6" height="1.3" fill="#6d7fc2" opacity="0.7"/>
<rect x="478.7" y="385.1" width="1.6" height="1.3" fill="#6d7fc2" opacity="0.7"/>
<rect x="484.6" y="438.1" width="1.6" height="1.3" fill="#9a8a6a" opacity="0.7"/>
<rect x="485.8" y="428.9" width="1.6" height="1.3" fill="#6d7fc2" opacity="0.7"/>
<rect x="537.5" y="396.1" width="1.6" height="1.3" fill="#9a8a6a" opacity="0.7"/>
<rect x="501.6" y="453.4" width="1.6" height="1.3" fill="#6d7fc2" opacity="0.7"/>
<rect x="478.4" y="418.1" width="1.6" height="1.3" fill="#6d7fc2" opacity="0.7"/>
<rect x="475.5" y="433.5" width="1.6" height="1.3" fill="#6d7fc2" opacity="0.7"/>
<rect x="498.1" y="381.0" width="1.6" height="1.3" fill="#6d7fc2" opacity="0.7"/>
<rect x="503.5" y="384.5" width="1.6" height="1.3" fill="#9a8a6a" opacity="0.7"/>
<rect x="537.8" y="387.5" width="1.6" height="1.3" fill="#6d7fc2" opacity="0.7"/>
<rect x="487.5" y="399.8" width="1.6" height="1.3" fill="#6d7fc2" opacity="0.7"/>
<rect x="533.3" y="440.7" width="1.6" height="1.3" fill="#6d7fc2" opacity="0.7"/>
<rect x="491.1" y="422.2" width="1.6" height="1.3" fill="#6d7fc2" opacity="0.7"/>
<rect x="468.7" y="431.0" width="1.6" height="1.3" fill="#6d7fc2" opacity="0.7"/>
<rect x="491.6" y="427.0" width="1.6" height="1.3" fill="#6d7fc2" opacity="0.7"/>
<rect x="489.5" y="384.7" width="1.6" height="1.3" fill="#9a8a6a" opacity="0.7"/>
<rect x="490.5" y="420.9" width="1.6" height="1.3" fill="#9a8a6a" opacity="0.7"/>
<rect x="470.6" y="419.0" width="1.6" height="1.3" fill="#6d7fc2" opacity="0.7"/>
<rect x="471.4" y="383.5" width="1.6" height="1.3" fill="#6d7fc2" opacity="0.7"/>
<rect x="488.0" y="436.3" width="1.6" height="1.3" fill="#6d7fc2" opacity="0.7"/>
<rect x="478.5" y="405.6" width="1.6" height="1.3" fill="#6d7fc2" opacity="0.7"/>
<rect x="467.6" y="434.3" width="1.6" height="1.3" fill="#6d7fc2" opacity="0.7"/>
<rect x="479.5" y="449.3" width="1.6" height="1.3" fill="#6d7fc2" opacity="0.7"/>
<rect x="497.5" y="416.6" width="1.6" height="1.3" fill="#6d7fc2" opacity="0.7"/>
<rect x="503.0" y="430.9" width="1.6" height="1.3" fill="#9a8a6a" opacity="0.7"/>
<rect x="527.4" y="432.4" width="1.6" height="1.3" fill="#6d7fc2" opacity="0.7"/>
<rect x="491.2" y="383.8" width="1.6" height="1.3" fill="#6d7fc2" opacity="0.7"/>
<rect x="486.5" y="398.7" width="1.6" height="1.3" fill="#6d7fc2" opacity="0.7"/>
<rect x="489.1" y="444.6" width="1.6" height="1.3" fill="#6d7fc2" opacity="0.7"/>
<rect x="473.5" y="401.5" width="1.6" height="1.3" fill="#6d7fc2" opacity="0.7"/>
<rect x="478.8" y="399.3" width="1.6" height="1.3" fill="#9a8a6a" opacity="0.7"/>
<rect x="506.1" y="397.9" width="1.6" height="1.3" fill="#9a8a6a" opacity="0.7"/>
<rect x="491.8" y="379.8" width="1.6" height="1.3" fill="#6d7fc2" opacity="0.7"/>
<rect x="502.8" y="394.7" width="1.6" height="1.3" fill="#6d7fc2" opacity="0.7"/>
<rect x="474.1" y="386.4" width="1.6" height="1.3" fill="#6d7fc2" opacity="0.7"/>
<rect x="467.8" y="402.4" width="1.6" height="1.3" fill="#6d7fc2" opacity="0.7"/>
<rect x="504.7" y="435.6" width="1.6" height="1.3" fill="#6d7fc2" opacity="0.7"/>
<rect x="530.9" y="408.7" width="1.6" height="1.3" fill="#6d7fc2" opacity="0.7"/>
<rect x="476.4" y="433.6" width="1.6" height="1.3" fill="#6d7fc2" opacity="0.7"/>
<rect x="488.9" y="446.1" width="1.6" height="1.3" fill="#6d7fc2" opacity="0.7"/>
<rect x="525.9" y="390.1" width="1.6" height="1.3" fill="#6d7fc2" opacity="0.7"/>
<rect x="527.6" y="439.6" width="1.6" height="1.3" fill="#6d7fc2" opacity="0.7"/>
<rect x="531.9" y="430.6" width="1.6" height="1.3" fill="#6d7fc2" opacity="0.7"/>
<rect x="468.0" y="389.6" width="1.6" height="1.3" fill="#6d7fc2" opacity="0.7"/>
<rect x="488.9" y="421.3" width="1.6" height="1.3" fill="#6d7fc2" opacity="0.7"/>
<rect x="516.0" y="416.2" width="1.6" height="1.3" fill="#6d7fc2" opacity="0.7"/>
<rect x="521.1" y="417.2" width="1.6" height="1.3" fill="#6d7fc2" opacity="0.7"/>
<rect x="470.1" y="434.6" width="1.6" height="1.3" fill="#6d7fc2" opacity="0.7"/>
<rect x="474.1" y="434.0" width="1.6" height="1.3" fill="#6d7fc2" opacity="0.7"/>
<rect x="538.1" y="416.5" width="1.6" height="1.3" fill="#6d7fc2" opacity="0.7"/>
<rect x="516.3" y="436.8" width="1.6" height="1.3" fill="#6d7fc2" opacity="0.7"/>
<rect x="471.0" y="390.7" width="1.6" height="1.3" fill="#6d7fc2" opacity="0.7"/>
<rect x="487.9" y="422.0" width="1.6" height="1.3" fill="#6d7fc2" opacity="0.7"/>
<rect x="474.2" y="429.8" width="1.6" height="1.3" fill="#6d7fc2" opacity="0.7"/>
<rect x="486.9" y="418.2" width="1.6" height="1.3" fill="#6d7fc2" opacity="0.7"/>
<rect x="474.1" y="446.3" width="1.6" height="1.3" fill="#6d7fc2" opacity="0.7"/>
<rect x="535.1" y="381.0" width="1.6" height="1.3" fill="#6d7fc2" opacity="0.7"/>
<rect x="537.5" y="413.2" width="1.6" height="1.3" fill="#6d7fc2" opacity="0.7"/>
<rect x="491.8" y="395.4" width="1.6" height="1.3" fill="#6d7fc2" opacity="0.7"/>
<rect x="480.8" y="450.7" width="1.6" height="1.3" fill="#6d7fc2" opacity="0.7"/>
<rect x="503.2" y="445.8" width="1.6" height="1.3" fill="#6d7fc2" opacity="0.7"/>
<rect x="490.5" y="415.9" width="1.6" height="1.3" fill="#6d7fc2" opacity="0.7"/>
<rect x="480.0" y="413.3" width="1.6" height="1.3" fill="#6d7fc2" opacity="0.7"/>
<rect x="476.1" y="403.2" width="1.6" height="1.3" fill="#6d7fc2" opacity="0.7"/>
<rect x="486.7" y="442.2" width="1.6" height="1.3" fill="#6d7fc2" opacity="0.7"/>
<rect x="518.5" y="446.9" width="1.6" height="1.3" fill="#6d7fc2" opacity="0.7"/>
<rect x="494.5" y="454.1" width="1.6" height="1.3" fill="#6d7fc2" opacity="0.7"/>
<rect x="497.2" y="400.2" width="1.6" height="1.3" fill="#6d7fc2" opacity="0.7"/>
<rect x="488.9" y="401.0" width="1.6" height="1.3" fill="#9a8a6a" opacity="0.7"/>
<rect x="474.1" y="417.8" width="1.6" height="1.3" fill="#6d7fc2" opacity="0.7"/>
<rect x="536.6" y="445.6" width="1.6" height="1.3" fill="#6d7fc2" opacity="0.7"/>
<rect x="533.4" y="449.8" width="1.6" height="1.3" fill="#6d7fc2" opacity="0.7"/>
<rect x="468.9" y="434.3" width="1.6" height="1.3" fill="#6d7fc2" opacity="0.7"/>
<rect x="513.3" y="401.0" width="1.6" height="1.3" fill="#6d7fc2" opacity="0.7"/>
<rect x="474.7" y="414.9" width="1.6" height="1.3" fill="#6d7fc2" opacity="0.7"/>
<rect x="486.4" y="452.4" width="1.6" height="1.3" fill="#6d7fc2" opacity="0.7"/>
<rect x="487.7" y="421.2" width="1.6" height="1.3" fill="#6d7fc2" opacity="0.7"/>
<rect x="471.4" y="395.2" width="1.6" height="1.3" fill="#9a8a6a" opacity="0.7"/>
<rect x="481.6" y="447.2" width="1.6" height="1.3" fill="#9a8a6a" opacity="0.7"/>
<rect x="475.6" y="394.0" width="1.6" height="1.3" fill="#6d7fc2" opacity="0.7"/>
<rect x="472.0" y="397.5" width="1.6" height="1.3" fill="#6d7fc2" opacity="0.7"/>
<rect x="531.5" y="435.5" width="1.6" height="1.3" fill="#6d7fc2" opacity="0.7"/>
<rect x="504.4" y="407.8" width="1.6" height="1.3" fill="#6d7fc2" opacity="0.7"/>
<rect x="474.4" y="451.8" width="1.6" height="1.3" fill="#6d7fc2" opacity="0.7"/>
<rect x="512.2" y="444.0" width="1.6" height="1.3" fill="#6d7fc2" opacity="0.7"/>
<rect x="473.7" y="409.5" width="1.6" height="1.3" fill="#6d7fc2" opacity="0.7"/>
<rect x="528.6" y="444.7" width="1.6" height="1.3" fill="#6d7fc2" opacity="0.7"/>
<rect x="485.6" y="446.4" width="1.6" height="1.3" fill="#6d7fc2" opacity="0.7"/>
<rect x="465.2" y="408.9" width="1.6" height="1.3" fill="#9a8a6a" opacity="0.7"/>
<rect x="529.1" y="452.1" width="1.6" height="1.3" fill="#6d7fc2" opacity="0.7"/>
<rect x="471.2" y="418.6" width="1.6" height="1.3" fill="#6d7fc2" opacity="0.7"/>
<rect x="519.1" y="427.9" width="1.6" height="1.3" fill="#6d7fc2" opacity="0.7"/>
<rect x="506.4" y="382.6" width="1.6" height="1.3" fill="#6d7fc2" opacity="0.7"/>
<rect x="491.1" y="427.8" width="1.6" height="1.3" fill="#6d7fc2" opacity="0.7"/>
<rect x="473.7" y="427.1" width="1.6" height="1.3" fill="#6d7fc2" opacity="0.7"/>
<rect x="469.0" y="418.8" width="1.6" height="1.3" fill="#6d7fc2" opacity="0.7"/>
<rect x="481.9" y="424.5" width="1.6" height="1.3" fill="#6d7fc2" opacity="0.7"/>
<rect x="463.95" y="378.45" width="77.20" height="77.00" fill="none" stroke="#6a6a66" stroke-width="1.5"/>
<rect x="463.2" y="459.9" width="78.69999999999999" height="78.39999999999998" fill="#e7e5dd"/>
<rect x="499.6" y="533.2" width="1.6" height="1.3" fill="#6d7fc2" opacity="0.7"/>
<rect x="500.7" y="479.4" width="1.6" height="1.3" fill="#6d7fc2" opacity="0.7"/>
<rect x="517.8" y="484.8" width="1.6" height="1.3" fill="#6d7fc2" opacity="0.7"/>
<rect x="515.6" y="493.1" width="1.6" height="1.3" fill="#6d7fc2" opacity="0.7"/>
<rect x="534.3" y="478.8" width="1.6" height="1.3" fill="#6d7fc2" opacity="0.7"/>
<rect x="496.6" y="512.7" width="1.6" height="1.3" fill="#6d7fc2" opacity="0.7"/>
<rect x="520.4" y="499.5" width="1.6" height="1.3" fill="#6d7fc2" opacity="0.7"/>
<rect x="488.5" y="522.9" width="1.6" height="1.3" fill="#6d7fc2" opacity="0.7"/>
<rect x="487.0" y="483.8" width="1.6" height="1.3" fill="#9a8a6a" opacity="0.7"/>
<rect x="479.2" y="478.5" width="1.6" height="1.3" fill="#6d7fc2" opacity="0.7"/>
<rect x="536.1" y="472.8" width="1.6" height="1.3" fill="#6d7fc2" opacity="0.7"/>
<rect x="492.5" y="472.5" width="1.6" height="1.3" fill="#6d7fc2" opacity="0.7"/>
<rect x="477.4" y="528.7" width="1.6" height="1.3" fill="#9a8a6a" opacity="0.7"/>
<rect x="539.7" y="531.2" width="1.6" height="1.3" fill="#6d7fc2" opacity="0.7"/>
<rect x="491.5" y="517.4" width="1.6" height="1.3" fill="#6d7fc2" opacity="0.7"/>
<rect x="493.5" y="489.7" width="1.6" height="1.3" fill="#6d7fc2" opacity="0.7"/>
<rect x="467.3" y="482.7" width="1.6" height="1.3" fill="#6d7fc2" opacity="0.7"/>
<rect x="474.4" y="533.6" width="1.6" height="1.3" fill="#6d7fc2" opacity="0.7"/>
<rect x="526.6" y="523.1" width="1.6" height="1.3" fill="#6d7fc2" opacity="0.7"/>
<rect x="479.5" y="489.6" width="1.6" height="1.3" fill="#9a8a6a" opacity="0.7"/>
<rect x="476.7" y="528.6" width="1.6" height="1.3" fill="#6d7fc2" opacity="0.7"/>
<rect x="525.8" y="518.9" width="1.6" height="1.3" fill="#6d7fc2" opacity="0.7"/>
<rect x="468.8" y="530.4" width="1.6" height="1.3" fill="#6d7fc2" opacity="0.7"/>
<rect x="532.3" y="487.1" width="1.6" height="1.3" fill="#6d7fc2" opacity="0.7"/>
<rect x="511.3" y="481.4" width="1.6" height="1.3" fill="#6d7fc2" opacity="0.7"/>
<rect x="485.8" y="462.2" width="1.6" height="1.3" fill="#6d7fc2" opacity="0.7"/>
<rect x="512.6" y="532.1" width="1.6" height="1.3" fill="#6d7fc2" opacity="0.7"/>
<rect x="479.6" y="533.1" width="1.6" height="1.3" fill="#9a8a6a" opacity="0.7"/>
<rect x="484.0" y="493.9" width="1.6" height="1.3" fill="#6d7fc2" opacity="0.7"/>
<rect x="478.9" y="521.6" width="1.6" height="1.3" fill="#6d7fc2" opacity="0.7"/>
<rect x="522.9" y="507.1" width="1.6" height="1.3" fill="#6d7fc2" opacity="0.7"/>
<rect x="492.2" y="520.1" width="1.6" height="1.3" fill="#6d7fc2" opacity="0.7"/>
<rect x="486.8" y="480.3" width="1.6" height="1.3" fill="#6d7fc2" opacity="0.7"/>
<rect x="481.6" y="486.1" width="1.6" height="1.3" fill="#9a8a6a" opacity="0.7"/>
<rect x="539.0" y="481.6" width="1.6" height="1.3" fill="#6d7fc2" opacity="0.7"/>
<rect x="480.2" y="514.7" width="1.6" height="1.3" fill="#6d7fc2" opacity="0.7"/>
<rect x="478.0" y="508.1" width="1.6" height="1.3" fill="#6d7fc2" opacity="0.7"/>
<rect x="528.5" y="511.3" width="1.6" height="1.3" fill="#6d7fc2" opacity="0.7"/>
<rect x="487.1" y="504.1" width="1.6" height="1.3" fill="#6d7fc2" opacity="0.7"/>
<rect x="480.1" y="480.3" width="1.6" height="1.3" fill="#6d7fc2" opacity="0.7"/>
<rect x="490.2" y="504.9" width="1.6" height="1.3" fill="#6d7fc2" opacity="0.7"/>
<rect x="539.3" y="499.6" width="1.6" height="1.3" fill="#6d7fc2" opacity="0.7"/>
<rect x="514.0" y="535.6" width="1.6" height="1.3" fill="#6d7fc2" opacity="0.7"/>
<rect x="526.4" y="524.4" width="1.6" height="1.3" fill="#9a8a6a" opacity="0.7"/>
<rect x="474.8" y="470.8" width="1.6" height="1.3" fill="#6d7fc2" opacity="0.7"/>
<rect x="508.8" y="531.1" width="1.6" height="1.3" fill="#6d7fc2" opacity="0.7"/>
<rect x="498.7" y="481.2" width="1.6" height="1.3" fill="#6d7fc2" opacity="0.7"/>
<rect x="473.1" y="506.3" width="1.6" height="1.3" fill="#6d7fc2" opacity="0.7"/>
<rect x="476.8" y="472.4" width="1.6" height="1.3" fill="#6d7fc2" opacity="0.7"/>
<rect x="482.8" y="510.4" width="1.6" height="1.3" fill="#6d7fc2" opacity="0.7"/>
<rect x="475.7" y="512.4" width="1.6" height="1.3" fill="#6d7fc2" opacity="0.7"/>
<rect x="480.4" y="521.1" width="1.6" height="1.3" fill="#6d7fc2" opacity="0.7"/>
<rect x="469.8" y="491.3" width="1.6" height="1.3" fill="#6d7fc2" opacity="0.7"/>
<rect x="472.0" y="474.1" width="1.6" height="1.3" fill="#6d7fc2" opacity="0.7"/>
<rect x="486.4" y="484.8" width="1.6" height="1.3" fill="#9a8a6a" opacity="0.7"/>
<rect x="507.5" y="488.5" width="1.6" height="1.3" fill="#6d7fc2" opacity="0.7"/>
<rect x="539.6" y="489.0" width="1.6" height="1.3" fill="#6d7fc2" opacity="0.7"/>
<rect x="480.4" y="462.3" width="1.6" height="1.3" fill="#9a8a6a" opacity="0.7"/>
<rect x="526.5" y="492.1" width="1.6" height="1.3" fill="#9a8a6a" opacity="0.7"/>
<rect x="477.3" y="463.0" width="1.6" height="1.3" fill="#6d7fc2" opacity="0.7"/>
<rect x="533.2" y="468.5" width="1.6" height="1.3" fill="#6d7fc2" opacity="0.7"/>
<rect x="502.9" y="472.8" width="1.6" height="1.3" fill="#6d7fc2" opacity="0.7"/>
<rect x="534.3" y="470.0" width="1.6" height="1.3" fill="#6d7fc2" opacity="0.7"/>
<rect x="537.4" y="476.6" width="1.6" height="1.3" fill="#6d7fc2" opacity="0.7"/>
<rect x="538.1" y="497.8" width="1.6" height="1.3" fill="#6d7fc2" opacity="0.7"/>
<rect x="494.2" y="529.2" width="1.6" height="1.3" fill="#6d7fc2" opacity="0.7"/>
<rect x="477.2" y="520.4" width="1.6" height="1.3" fill="#6d7fc2" opacity="0.7"/>
<rect x="528.4" y="523.6" width="1.6" height="1.3" fill="#6d7fc2" opacity="0.7"/>
<rect x="477.6" y="500.4" width="1.6" height="1.3" fill="#6d7fc2" opacity="0.7"/>
<rect x="473.6" y="515.8" width="1.6" height="1.3" fill="#9a8a6a" opacity="0.7"/>
<rect x="481.8" y="518.3" width="1.6" height="1.3" fill="#6d7fc2" opacity="0.7"/>
<rect x="474.0" y="506.5" width="1.6" height="1.3" fill="#6d7fc2" opacity="0.7"/>
<rect x="488.1" y="493.2" width="1.6" height="1.3" fill="#6d7fc2" opacity="0.7"/>
<rect x="514.4" y="495.1" width="1.6" height="1.3" fill="#6d7fc2" opacity="0.7"/>
<rect x="483.3" y="498.3" width="1.6" height="1.3" fill="#6d7fc2" opacity="0.7"/>
<rect x="523.5" y="496.0" width="1.6" height="1.3" fill="#6d7fc2" opacity="0.7"/>
<rect x="473.2" y="471.5" width="1.6" height="1.3" fill="#6d7fc2" opacity="0.7"/>
<rect x="478.7" y="499.9" width="1.6" height="1.3" fill="#6d7fc2" opacity="0.7"/>
<rect x="471.3" y="516.5" width="1.6" height="1.3" fill="#6d7fc2" opacity="0.7"/>
<rect x="469.3" y="499.4" width="1.6" height="1.3" fill="#6d7fc2" opacity="0.7"/>
<rect x="475.4" y="525.7" width="1.6" height="1.3" fill="#9a8a6a" opacity="0.7"/>
<rect x="526.1" y="476.3" width="1.6" height="1.3" fill="#9a8a6a" opacity="0.7"/>
<rect x="536.7" y="530.1" width="1.6" height="1.3" fill="#6d7fc2" opacity="0.7"/>
<rect x="534.7" y="466.8" width="1.6" height="1.3" fill="#6d7fc2" opacity="0.7"/>
<rect x="477.1" y="528.6" width="1.6" height="1.3" fill="#6d7fc2" opacity="0.7"/>
<rect x="475.9" y="499.3" width="1.6" height="1.3" fill="#9a8a6a" opacity="0.7"/>
<rect x="474.0" y="499.5" width="1.6" height="1.3" fill="#6d7fc2" opacity="0.7"/>
<rect x="471.9" y="473.9" width="1.6" height="1.3" fill="#9a8a6a" opacity="0.7"/>
<rect x="532.1" y="474.5" width="1.6" height="1.3" fill="#6d7fc2" opacity="0.7"/>
<rect x="481.0" y="509.2" width="1.6" height="1.3" fill="#6d7fc2" opacity="0.7"/>
<rect x="506.7" y="505.1" width="1.6" height="1.3" fill="#9a8a6a" opacity="0.7"/>
<rect x="493.0" y="508.8" width="1.6" height="1.3" fill="#6d7fc2" opacity="0.7"/>
<rect x="485.0" y="535.6" width="1.6" height="1.3" fill="#6d7fc2" opacity="0.7"/>
<rect x="522.3" y="494.8" width="1.6" height="1.3" fill="#6d7fc2" opacity="0.7"/>
<rect x="468.8" y="522.9" width="1.6" height="1.3" fill="#6d7fc2" opacity="0.7"/>
<rect x="538.7" y="505.5" width="1.6" height="1.3" fill="#6d7fc2" opacity="0.7"/>
<rect x="465.3" y="464.4" width="1.6" height="1.3" fill="#6d7fc2" opacity="0.7"/>
<rect x="497.5" y="500.0" width="1.6" height="1.3" fill="#9a8a6a" opacity="0.7"/>
<rect x="473.1" y="510.5" width="1.6" height="1.3" fill="#6d7fc2" opacity="0.7"/>
<rect x="476.4" y="469.8" width="1.6" height="1.3" fill="#6d7fc2" opacity="0.7"/>
<rect x="482.4" y="505.7" width="1.6" height="1.3" fill="#6d7fc2" opacity="0.7"/>
<rect x="500.7" y="471.9" width="1.6" height="1.3" fill="#9a8a6a" opacity="0.7"/>
<rect x="471.1" y="469.0" width="1.6" height="1.3" fill="#6d7fc2" opacity="0.7"/>
<rect x="523.6" y="491.8" width="1.6" height="1.3" fill="#6d7fc2" opacity="0.7"/>
<rect x="484.0" y="503.7" width="1.6" height="1.3" fill="#6d7fc2" opacity="0.7"/>
<rect x="498.3" y="531.6" width="1.6" height="1.3" fill="#6d7fc2" opacity="0.7"/>
<rect x="490.7" y="465.2" width="1.6" height="1.3" fill="#6d7fc2" opacity="0.7"/>
<rect x="483.0" y="466.2" width="1.6" height="1.3" fill="#6d7fc2" opacity="0.7"/>
<rect x="481.5" y="531.9" width="1.6" height="1.3" fill="#6d7fc2" opacity="0.7"/>
<rect x="483.0" y="499.6" width="1.6" height="1.3" fill="#6d7fc2" opacity="0.7"/>
<rect x="478.2" y="484.9" width="1.6" height="1.3" fill="#6d7fc2" opacity="0.7"/>
<rect x="490.3" y="520.2" width="1.6" height="1.3" fill="#6d7fc2" opacity="0.7"/>
<rect x="489.2" y="517.3" width="1.6" height="1.3" fill="#6d7fc2" opacity="0.7"/>
<rect x="499.0" y="478.7" width="1.6" height="1.3" fill="#6d7fc2" opacity="0.7"/>
<rect x="468.2" y="486.9" width="1.6" height="1.3" fill="#6d7fc2" opacity="0.7"/>
<rect x="528.3" y="514.8" width="1.6" height="1.3" fill="#6d7fc2" opacity="0.7"/>
<rect x="497.8" y="520.6" width="1.6" height="1.3" fill="#6d7fc2" opacity="0.7"/>
<rect x="483.9" y="533.7" width="1.6" height="1.3" fill="#6d7fc2" opacity="0.7"/>
<rect x="466.3" y="481.3" width="1.6" height="1.3" fill="#6d7fc2" opacity="0.7"/>
<rect x="535.8" y="517.4" width="1.6" height="1.3" fill="#6d7fc2" opacity="0.7"/>
<rect x="489.7" y="479.7" width="1.6" height="1.3" fill="#9a8a6a" opacity="0.7"/>
<rect x="517.0" y="511.4" width="1.6" height="1.3" fill="#9a8a6a" opacity="0.7"/>
<rect x="527.9" y="513.8" width="1.6" height="1.3" fill="#9a8a6a" opacity="0.7"/>
<rect x="519.3" y="504.3" width="1.6" height="1.3" fill="#6d7fc2" opacity="0.7"/>
<rect x="483.4" y="467.7" width="1.6" height="1.3" fill="#9a8a6a" opacity="0.7"/>
<rect x="467.9" y="469.8" width="1.6" height="1.3" fill="#9a8a6a" opacity="0.7"/>
<rect x="475.8" y="464.0" width="1.6" height="1.3" fill="#6d7fc2" opacity="0.7"/>
<rect x="512.6" y="513.8" width="1.6" height="1.3" fill="#6d7fc2" opacity="0.7"/>
<rect x="482.6" y="488.9" width="1.6" height="1.3" fill="#6d7fc2" opacity="0.7"/>
<rect x="531.8" y="466.8" width="1.6" height="1.3" fill="#9a8a6a" opacity="0.7"/>
<rect x="535.7" y="469.9" width="1.6" height="1.3" fill="#6d7fc2" opacity="0.7"/>
<rect x="468.1" y="525.0" width="1.6" height="1.3" fill="#6d7fc2" opacity="0.7"/>
<rect x="526.8" y="508.9" width="1.6" height="1.3" fill="#6d7fc2" opacity="0.7"/>
<rect x="469.7" y="518.2" width="1.6" height="1.3" fill="#6d7fc2" opacity="0.7"/>
<rect x="496.9" y="463.5" width="1.6" height="1.3" fill="#6d7fc2" opacity="0.7"/>
<rect x="485.8" y="489.3" width="1.6" height="1.3" fill="#6d7fc2" opacity="0.7"/>
<rect x="502.8" y="525.2" width="1.6" height="1.3" fill="#6d7fc2" opacity="0.7"/>
<rect x="477.9" y="494.4" width="1.6" height="1.3" fill="#6d7fc2" opacity="0.7"/>
<rect x="517.8" y="501.9" width="1.6" height="1.3" fill="#6d7fc2" opacity="0.7"/>
<rect x="472.0" y="522.9" width="1.6" height="1.3" fill="#6d7fc2" opacity="0.7"/>
<rect x="472.5" y="518.6" width="1.6" height="1.3" fill="#9a8a6a" opacity="0.7"/>
<rect x="480.0" y="498.5" width="1.6" height="1.3" fill="#6d7fc2" opacity="0.7"/>
<rect x="480.1" y="487.7" width="1.6" height="1.3" fill="#6d7fc2" opacity="0.7"/>
<rect x="491.7" y="483.0" width="1.6" height="1.3" fill="#6d7fc2" opacity="0.7"/>
<rect x="502.4" y="470.1" width="1.6" height="1.3" fill="#6d7fc2" opacity="0.7"/>
<rect x="487.7" y="513.8" width="1.6" height="1.3" fill="#6d7fc2" opacity="0.7"/>
<rect x="491.8" y="491.8" width="1.6" height="1.3" fill="#6d7fc2" opacity="0.7"/>
<rect x="471.6" y="528.0" width="1.6" height="1.3" fill="#6d7fc2" opacity="0.7"/>
<rect x="474.0" y="529.0" width="1.6" height="1.3" fill="#6d7fc2" opacity="0.7"/>
<rect x="531.2" y="479.3" width="1.6" height="1.3" fill="#6d7fc2" opacity="0.7"/>
<rect x="521.6" y="517.9" width="1.6" height="1.3" fill="#6d7fc2" opacity="0.7"/>
<rect x="489.6" y="473.5" width="1.6" height="1.3" fill="#6d7fc2" opacity="0.7"/>
<rect x="520.6" y="474.5" width="1.6" height="1.3" fill="#6d7fc2" opacity="0.7"/>
<rect x="508.5" y="471.3" width="1.6" height="1.3" fill="#6d7fc2" opacity="0.7"/>
<rect x="483.0" y="476.2" width="1.6" height="1.3" fill="#6d7fc2" opacity="0.7"/>
<rect x="528.2" y="473.4" width="1.6" height="1.3" fill="#6d7fc2" opacity="0.7"/>
<rect x="475.7" y="500.8" width="1.6" height="1.3" fill="#6d7fc2" opacity="0.7"/>
<rect x="479.3" y="534.5" width="1.6" height="1.3" fill="#6d7fc2" opacity="0.7"/>
<rect x="492.2" y="469.5" width="1.6" height="1.3" fill="#6d7fc2" opacity="0.7"/>
<rect x="524.6" y="516.5" width="1.6" height="1.3" fill="#6d7fc2" opacity="0.7"/>
<rect x="483.8" y="469.9" width="1.6" height="1.3" fill="#6d7fc2" opacity="0.7"/>
<rect x="467.7" y="491.6" width="1.6" height="1.3" fill="#6d7fc2" opacity="0.7"/>
<rect x="502.6" y="508.9" width="1.6" height="1.3" fill="#6d7fc2" opacity="0.7"/>
<rect x="482.9" y="492.0" width="1.6" height="1.3" fill="#6d7fc2" opacity="0.7"/>
<rect x="497.3" y="504.6" width="1.6" height="1.3" fill="#6d7fc2" opacity="0.7"/>
<rect x="482.3" y="515.6" width="1.6" height="1.3" fill="#9a8a6a" opacity="0.7"/>
<rect x="517.5" y="525.3" width="1.6" height="1.3" fill="#6d7fc2" opacity="0.7"/>
<rect x="499.1" y="485.2" width="1.6" height="1.3" fill="#6d7fc2" opacity="0.7"/>
<rect x="478.1" y="520.1" width="1.6" height="1.3" fill="#6d7fc2" opacity="0.7"/>
<rect x="483.9" y="493.4" width="1.6" height="1.3" fill="#6d7fc2" opacity="0.7"/>
<rect x="463.95" y="460.65" width="77.20" height="76.90" fill="none" stroke="#6a6a66" stroke-width="1.5"/>
<path d="M483.5,378 C481,400 477,430 471,456" fill="none" stroke="#4a4a44" stroke-width="0.9" stroke-dasharray="1.6,1.3"/>
<path d="M488.5,378 C486,400 481,430 475,456" fill="none" stroke="#4a4a44" stroke-width="0.9" stroke-dasharray="1.6,1.3"/>
<rect x="500.3" y="383" width="16.9" height="16.8" fill="none" stroke="#5aa0d8" stroke-width="0.9" stroke-dasharray="1.6,1.3"/>
<rect x="472.6" y="416.5" width="17.2" height="17.2" fill="none" stroke="#6cbf5c" stroke-width="0.9" stroke-dasharray="1.6,1.3"/>
<text x="480.6" y="412.8" font-size="14.5" text-anchor="start" fill="#111" style="" textLength="7.6" lengthAdjust="spacingAndGlyphs"  stroke="#111" stroke-width="0.3">L</text>
<text x="503.0" y="412.8" font-size="14.5" text-anchor="start" fill="#111" style="" textLength="15.6" lengthAdjust="spacingAndGlyphs"  stroke="#111" stroke-width="0.3">SL</text>
<line x1="518.3" y1="446.9" x2="532.9" y2="446.9" stroke="#222" stroke-width="1.5"/>
<path d="M466,460.5 C466,490 470,515 480,538" fill="none" stroke="#4a4a44" stroke-width="0.9" stroke-dasharray="1.6,1.3"/>
<path d="M475,460.5 C474,490 478,515 489,538" fill="none" stroke="#4a4a44" stroke-width="0.9" stroke-dasharray="1.6,1.3"/>
<rect x="506" y="462" width="18" height="16.4" fill="none" stroke="#5aa0d8" stroke-width="0.9" stroke-dasharray="1.6,1.3"/>
<rect x="466" y="514.6" width="17.5" height="17.2" fill="none" stroke="#6cbf5c" stroke-width="0.9" stroke-dasharray="1.6,1.3"/>
<text x="466.6" y="511.4" font-size="14.5" text-anchor="start" fill="#111" style="" textLength="7.6" lengthAdjust="spacingAndGlyphs"  stroke="#111" stroke-width="0.3">L</text>
<text x="509.4" y="490.4" font-size="14.5" text-anchor="start" fill="#111" style="" textLength="15.4" lengthAdjust="spacingAndGlyphs"  stroke="#111" stroke-width="0.3">SL</text>
<line x1="518" y1="529.1" x2="533.2" y2="529.1" stroke="#222" stroke-width="1.5"/>
<rect x="545.3" y="377.7" width="78.40000000000009" height="78.5" fill="#f0ede5"/>
<rect x="545.3" y="459.9" width="78.40000000000009" height="78.39999999999998" fill="#f0ede5"/>
<rect x="627.4" y="377.7" width="78.5" height="78.5" fill="#f0ede5"/>
<rect x="627.4" y="459.9" width="78.5" height="78.39999999999998" fill="#f0ede5"/>
<path d="M565.4,378.8 C567,395 569,405 565,415 C561,428 557,445 555.6,456 L581.1,456 C584,445 588,430 593,415 C597,402 594,392 591.3,378.8Z" fill="#ebe4d2"/>
<path d="M553.3,461.9 C557,480 562,490 567.5,497.1 C571,510 574,525 576.2,537 L623,537 L623,488 C617,482 612,472 606.5,460.5Z" fill="#ece6d8"/>
<ellipse cx="665" cy="410" rx="22" ry="12" transform="rotate(25 665 410)" fill="#ebe2cc" opacity="0.45"/>
<path d="M565.4,378.8 C567,395 569,405 565,415 C561,428 557,445 555.6,456" fill="none" stroke="#333" stroke-width="0.9" stroke-dasharray="1.6,1.3"/>
<path d="M591.3,378.8 C594,392 597,402 593,415 C588,430 584,445 581.1,456" fill="none" stroke="#333" stroke-width="0.9" stroke-dasharray="1.6,1.3"/>
<ellipse cx="571.3" cy="391.5" rx="3.51" ry="2.97" transform="rotate(0 571.3 391.5)" fill="#634629" filter="url(#soft)"/>
<ellipse cx="588.9" cy="409.1" rx="4.73" ry="3.51" transform="rotate(-20 588.9 409.1)" fill="#634629" filter="url(#soft)"/>
<ellipse cx="565.4" cy="426.7" rx="3.78" ry="4.86" transform="rotate(10 565.4 426.7)" fill="#634629" filter="url(#soft)"/>
<ellipse cx="565.4" cy="438.5" rx="3.78" ry="4.59" transform="rotate(0 565.4 438.5)" fill="#634629" filter="url(#soft)"/>
<ellipse cx="571.3" cy="383.7" rx="3.24" ry="2.70" transform="rotate(0 571.3 383.7)" fill="#5b6fb5" filter="url(#soft)"/>
<ellipse cx="582.0" cy="402.3" rx="4.05" ry="2.70" transform="rotate(-10 582.0 402.3)" fill="#5b6fb5" filter="url(#soft)"/>
<ellipse cx="574.2" cy="399.3" rx="3.24" ry="2.70" transform="rotate(0 574.2 399.3)" fill="#5b6fb5" filter="url(#soft)"/>
<ellipse cx="574.8" cy="433.6" rx="2.97" ry="4.32" transform="rotate(30 574.8 433.6)" fill="#5b6fb5" filter="url(#soft)"/>
<ellipse cx="605.5" cy="415.0" rx="2.97" ry="4.05" transform="rotate(0 605.5 415.0)" fill="#5b6fb5" filter="url(#soft)"/>
<ellipse cx="594.4" cy="428.7" rx="2.70" ry="4.05" transform="rotate(-20 594.4 428.7)" fill="#5b6fb5" filter="url(#soft)"/>
<ellipse cx="594.8" cy="438.5" rx="2.43" ry="3.51" transform="rotate(0 594.8 438.5)" fill="#5b6fb5" filter="url(#soft)"/>
<ellipse cx="584.0" cy="383.7" rx="3.51" ry="2.70" transform="rotate(0 584.0 383.7)" fill="#5b6fb5" filter="url(#soft)"/>
<ellipse cx="615.3" cy="448.2" rx="4.05" ry="2.97" transform="rotate(0 615.3 448.2)" fill="#5b6fb5" filter="url(#soft)"/>
<ellipse cx="620.2" cy="433.6" rx="2.16" ry="3.24" transform="rotate(0 620.2 433.6)" fill="#5b6fb5" filter="url(#soft)"/>
<ellipse cx="600.0" cy="452.0" rx="2.97" ry="2.16" transform="rotate(0 600.0 452.0)" fill="#5b6fb5" filter="url(#soft)"/>
<ellipse cx="660.3" cy="404.2" rx="3.78" ry="4.59" transform="rotate(0 660.3 404.2)" fill="#634629" filter="url(#soft)"/>
<ellipse cx="674.0" cy="402.3" rx="6.75" ry="3.51" transform="rotate(25 674.0 402.3)" fill="#634629" filter="url(#soft)"/>
<ellipse cx="679.9" cy="431.6" rx="3.78" ry="4.86" transform="rotate(0 679.9 431.6)" fill="#634629" filter="url(#soft)"/>
<ellipse cx="691.6" cy="434.6" rx="3.78" ry="4.86" transform="rotate(0 691.6 434.6)" fill="#634629" filter="url(#soft)"/>
<ellipse cx="663.2" cy="417.0" rx="2.97" ry="4.32" transform="rotate(0 663.2 417.0)" fill="#5b6fb5" filter="url(#soft)"/>
<ellipse cx="638.2" cy="403.3" rx="2.43" ry="4.05" transform="rotate(10 638.2 403.3)" fill="#5b6fb5" filter="url(#soft)"/>
<ellipse cx="634.9" cy="444.3" rx="2.97" ry="4.32" transform="rotate(20 634.9 444.3)" fill="#5b6fb5" filter="url(#soft)"/>
<ellipse cx="667.2" cy="447.3" rx="3.78" ry="2.97" transform="rotate(0 667.2 447.3)" fill="#5b6fb5" filter="url(#soft)"/>
<ellipse cx="703.3" cy="393.5" rx="2.16" ry="4.59" transform="rotate(0 703.3 393.5)" fill="#5b6fb5" filter="url(#soft)"/>
<ellipse cx="638.8" cy="432.6" rx="2.97" ry="2.97" transform="rotate(0 638.8 432.6)" fill="#5b6fb5" filter="url(#soft)"/>
<ellipse cx="670.7" cy="427.7" rx="2.43" ry="3.51" transform="rotate(0 670.7 427.7)" fill="#5b6fb5" filter="url(#soft)"/>
<ellipse cx="656.0" cy="448.0" rx="3.51" ry="2.16" transform="rotate(0 656.0 448.0)" fill="#5b6fb5" filter="url(#soft)"/>
<ellipse cx="680.8" cy="415" rx="4" ry="3.2" fill="none" stroke="#c9b38e" stroke-width="1"/>
<path d="M553.3,461.9 C557,480 562,490 567.5,497.1 C571,510 574,525 576.2,537" fill="none" stroke="#333" stroke-width="0.9" stroke-dasharray="1.6,1.3"/>
<path d="M606.5,460.5 C612,472 617,482 622.5,487.4" fill="none" stroke="#333" stroke-width="0.9" stroke-dasharray="1.6,1.3"/>
<ellipse cx="563.5" cy="491.3" rx="3.51" ry="4.32" transform="rotate(0 563.5 491.3)" fill="#5b6fb5" filter="url(#soft)"/>
<ellipse cx="570.3" cy="482.5" rx="4.05" ry="4.05" transform="rotate(0 570.3 482.5)" fill="#5b6fb5" filter="url(#soft)"/>
<ellipse cx="577.2" cy="518.7" rx="3.51" ry="4.32" transform="rotate(0 577.2 518.7)" fill="#5b6fb5" filter="url(#soft)"/>
<ellipse cx="595.7" cy="507.0" rx="2.70" ry="3.51" transform="rotate(0 595.7 507.0)" fill="#5b6fb5" filter="url(#soft)"/>
<ellipse cx="603.6" cy="505.0" rx="2.97" ry="4.59" transform="rotate(-20 603.6 505.0)" fill="#5b6fb5" filter="url(#soft)"/>
<ellipse cx="600.6" cy="469.8" rx="3.24" ry="4.05" transform="rotate(0 600.6 469.8)" fill="#5b6fb5" filter="url(#soft)"/>
<ellipse cx="589.9" cy="479.5" rx="2.43" ry="3.78" transform="rotate(0 589.9 479.5)" fill="#5b6fb5" filter="url(#soft)"/>
<ellipse cx="614.3" cy="485.4" rx="4.05" ry="2.97" transform="rotate(20 614.3 485.4)" fill="#5b6fb5" filter="url(#soft)"/>
<ellipse cx="595.7" cy="524.5" rx="3.51" ry="2.70" transform="rotate(0 595.7 524.5)" fill="#5b6fb5" filter="url(#soft)"/>
<ellipse cx="589.9" cy="534.3" rx="3.51" ry="2.70" transform="rotate(0 589.9 534.3)" fill="#5b6fb5" filter="url(#soft)"/>
<ellipse cx="578.7" cy="497.1" rx="4.59" ry="5.40" transform="rotate(0 578.7 497.1)" fill="#6a5a5a" filter="url(#soft)"/>
<ellipse cx="563.0" cy="470.0" rx="2.70" ry="2.70" transform="rotate(0 563.0 470.0)" fill="#5b6fb5" filter="url(#soft)"/>
<ellipse cx="604.0" cy="476.0" rx="3.24" ry="2.70" transform="rotate(0 604.0 476.0)" fill="#5b6fb5" filter="url(#soft)"/>
<ellipse cx="674" cy="476" rx="7" ry="6" fill="none" stroke="#dcd6c8" stroke-width="1.2"/>
<ellipse cx="670.0" cy="475.0" rx="2.97" ry="4.05" transform="rotate(20 670.0 475.0)" fill="#5b6fb5" filter="url(#soft)"/>
<ellipse cx="676.0" cy="473.0" rx="3.24" ry="3.78" transform="rotate(0 676.0 473.0)" fill="#5b6fb5" filter="url(#soft)"/>
<ellipse cx="672.5" cy="481.0" rx="4.05" ry="2.97" transform="rotate(0 672.5 481.0)" fill="#5b6fb5" filter="url(#soft)"/>
<ellipse cx="679.9" cy="485.4" rx="4.59" ry="2.70" transform="rotate(-10 679.9 485.4)" fill="#5b6fb5" filter="url(#soft)"/>
<ellipse cx="698.5" cy="471.7" rx="2.43" ry="5.40" transform="rotate(20 698.5 471.7)" fill="#5b6fb5" filter="url(#soft)"/>
<ellipse cx="641.7" cy="496.2" rx="4.86" ry="2.16" transform="rotate(30 641.7 496.2)" fill="#5b6fb5" filter="url(#soft)"/>
<ellipse cx="631.0" cy="500.1" rx="2.70" ry="2.97" transform="rotate(0 631.0 500.1)" fill="#5b6fb5" filter="url(#soft)"/>
<ellipse cx="685.7" cy="506.9" rx="4.59" ry="2.43" transform="rotate(10 685.7 506.9)" fill="#5b6fb5" filter="url(#soft)"/>
<ellipse cx="662.3" cy="520.6" rx="2.43" ry="4.05" transform="rotate(-20 662.3 520.6)" fill="#5b6fb5" filter="url(#soft)"/>
<ellipse cx="665.2" cy="532.4" rx="3.24" ry="3.78" transform="rotate(0 665.2 532.4)" fill="#5b6fb5" filter="url(#soft)"/>
<ellipse cx="637.8" cy="530.4" rx="2.16" ry="4.05" transform="rotate(10 637.8 530.4)" fill="#5b6fb5" filter="url(#soft)"/>
<ellipse cx="650.0" cy="466.0" rx="2.43" ry="2.43" transform="rotate(0 650.0 466.0)" fill="#5b6fb5" filter="url(#soft)"/>
<ellipse cx="702.0" cy="505.0" rx="2.16" ry="2.16" transform="rotate(0 702.0 505.0)" fill="#5b6fb5" filter="url(#soft)"/>
<rect x="546.05" y="378.45" width="76.90" height="77.00" fill="none" stroke="#80c07a" stroke-width="1.5"/>
<rect x="546.05" y="460.65" width="76.90" height="76.90" fill="none" stroke="#80c07a" stroke-width="1.5"/>
<rect x="628.15" y="378.45" width="77.00" height="77.00" fill="none" stroke="#7fb0dc" stroke-width="1.5"/>
<rect x="628.15" y="460.65" width="77.00" height="76.90" fill="none" stroke="#7fb0dc" stroke-width="1.5"/>
<text x="549.8" y="391.5" font-size="13.5" text-anchor="start" fill="#111" style=""  stroke="#111" stroke-width="0.3">L</text>
<text x="631.9" y="391.5" font-size="13.5" text-anchor="start" fill="#111" style="" textLength="14.7" lengthAdjust="spacingAndGlyphs"  stroke="#111" stroke-width="0.3">SL</text>
<text x="549.8" y="473.0" font-size="13.5" text-anchor="start" fill="#111" style=""  stroke="#111" stroke-width="0.3">L</text>
<text x="631.9" y="473.0" font-size="13.5" text-anchor="start" fill="#111" style="" textLength="14.7" lengthAdjust="spacingAndGlyphs"  stroke="#111" stroke-width="0.3">SL</text>
<line x1="599.7" y1="446.9" x2="615.3" y2="446.9" stroke="#222" stroke-width="1.4"/>
<line x1="680.8" y1="446.9" x2="695.9" y2="446.9" stroke="#222" stroke-width="1.4"/>
<line x1="599.7" y1="529.4" x2="614.7" y2="529.4" stroke="#222" stroke-width="1.4"/>
<line x1="680.8" y1="529.4" x2="695.9" y2="529.4" stroke="#222" stroke-width="1.4"/>
<line x1="758.3" y1="377.5" x2="758.3" y2="495.2" stroke="#333" stroke-width="1.3"/>
<line x1="757.6" y1="494.5" x2="862" y2="494.5" stroke="#333" stroke-width="1.3"/>
<line x1="754.4" y1="494.5" x2="758.3" y2="494.5" stroke="#333" stroke-width="1.2"/>
<text x="753.2" y="499.3" font-size="14" text-anchor="end" fill="#222" style="" textLength="21.9" lengthAdjust="spacingAndGlyphs"  stroke="#222" stroke-width="0.3">0.0</text>
<line x1="754.4" y1="455.7" x2="758.3" y2="455.7" stroke="#333" stroke-width="1.2"/>
<text x="753.2" y="460.5" font-size="14" text-anchor="end" fill="#222" style="" textLength="21.9" lengthAdjust="spacingAndGlyphs"  stroke="#222" stroke-width="0.3">0.5</text>
<line x1="754.4" y1="416.9" x2="758.3" y2="416.9" stroke="#333" stroke-width="1.2"/>
<text x="753.2" y="421.7" font-size="14" text-anchor="end" fill="#222" style="" textLength="21.9" lengthAdjust="spacingAndGlyphs"  stroke="#222" stroke-width="0.3">1.0</text>
<line x1="754.4" y1="378.1" x2="758.3" y2="378.1" stroke="#333" stroke-width="1.2"/>
<text x="753.2" y="382.9" font-size="14" text-anchor="end" fill="#222" style="" textLength="21.9" lengthAdjust="spacingAndGlyphs"  stroke="#222" stroke-width="0.3">1.5</text>
<text transform="translate(724.6,437.6) rotate(-90)" font-size="13.5" text-anchor="middle" fill="#222" textLength="141.9" lengthAdjust="spacingAndGlyphs" stroke="#222" stroke-width="0.3">FOXO1 intensity (fold)</text>
<rect x="765.95" y="416.90" width="15.7" height="77.60" fill="#4c7f68"/>
<line x1="773.8" y1="393.7" x2="773.8" y2="440.7" stroke="#111" stroke-width="1.2"/>
<line x1="769.8" y1="393.7" x2="777.8" y2="393.7" stroke="#111" stroke-width="1.2"/>
<line x1="769.8" y1="440.7" x2="777.8" y2="440.7" stroke="#111" stroke-width="1.2"/>
<line x1="773.8" y1="494.5" x2="773.8" y2="499.6" stroke="#333" stroke-width="1.2"/>
<rect x="789.55" y="453.37" width="15.7" height="41.13" fill="#d2633f"/>
<line x1="797.4" y1="437.7" x2="797.4" y2="469.0" stroke="#111" stroke-width="1.2"/>
<line x1="793.4" y1="437.7" x2="801.4" y2="437.7" stroke="#111" stroke-width="1.2"/>
<line x1="793.4" y1="469.0" x2="801.4" y2="469.0" stroke="#111" stroke-width="1.2"/>
<line x1="797.4" y1="494.5" x2="797.4" y2="499.6" stroke="#333" stroke-width="1.2"/>
<rect x="813.25" y="416.90" width="15.7" height="77.60" fill="#4c7f68"/>
<line x1="821.1" y1="398.0" x2="821.1" y2="436.2" stroke="#111" stroke-width="1.2"/>
<line x1="817.1" y1="398.0" x2="825.1" y2="398.0" stroke="#111" stroke-width="1.2"/>
<line x1="817.1" y1="436.2" x2="825.1" y2="436.2" stroke="#111" stroke-width="1.2"/>
<line x1="821.1" y1="494.5" x2="821.1" y2="499.6" stroke="#333" stroke-width="1.2"/>
<rect x="836.95" y="446.85" width="15.7" height="47.65" fill="#d2633f"/>
<line x1="844.8" y1="423.5" x2="844.8" y2="470.4" stroke="#111" stroke-width="1.2"/>
<line x1="840.8" y1="423.5" x2="848.8" y2="423.5" stroke="#111" stroke-width="1.2"/>
<line x1="840.8" y1="470.4" x2="848.8" y2="470.4" stroke="#111" stroke-width="1.2"/>
<line x1="844.8" y1="494.5" x2="844.8" y2="499.6" stroke="#333" stroke-width="1.2"/>
<circle cx="773.7" cy="385.7" r="1.7" fill="#111"/>
<circle cx="773.7" cy="399" r="1.7" fill="#111"/>
<circle cx="773.7" cy="408.8" r="1.7" fill="#111"/>
<circle cx="772.8" cy="429.9" r="1.7" fill="#111"/>
<circle cx="774.9" cy="432.3" r="1.7" fill="#111"/>
<circle cx="773.7" cy="448.5" r="1.7" fill="#111"/>
<circle cx="794.9" cy="434.8" r="1.7" fill="#111"/>
<circle cx="800.2" cy="432.5" r="1.7" fill="#111"/>
<circle cx="791.9" cy="460" r="1.7" fill="#111"/>
<circle cx="797.4" cy="461.2" r="1.7" fill="#111"/>
<circle cx="802.5" cy="462" r="1.7" fill="#111"/>
<circle cx="797.2" cy="470.8" r="1.7" fill="#111"/>
<circle cx="821.1" cy="388.6" r="1.7" fill="#111"/>
<circle cx="821.1" cy="405.3" r="1.7" fill="#111"/>
<circle cx="821.1" cy="413.1" r="1.7" fill="#111"/>
<circle cx="821.1" cy="424.4" r="1.7" fill="#111"/>
<circle cx="821.1" cy="429.9" r="1.7" fill="#111"/>
<circle cx="821.1" cy="442.4" r="1.7" fill="#111"/>
<circle cx="844.8" cy="414.1" r="1.7" fill="#111"/>
<circle cx="844.8" cy="425.8" r="1.7" fill="#111"/>
<circle cx="844.8" cy="444.4" r="1.7" fill="#111"/>
<circle cx="844.8" cy="458.3" r="1.7" fill="#111"/>
<circle cx="844.8" cy="464.5" r="1.7" fill="#111"/>
<circle cx="844.8" cy="474.9" r="1.7" fill="#111"/>
<text x="759.3" y="372.6" font-size="11.5" fill="#333" textLength="49.7" lengthAdjust="spacingAndGlyphs" stroke="#333" stroke-width="0.22"><tspan font-style="italic">P</tspan> = 0.0105</text>
<text x="815" y="372.6" font-size="11.5" fill="#333" textLength="50.9" lengthAdjust="spacingAndGlyphs" stroke="#333" stroke-width="0.22"><tspan font-style="italic">P</tspan> = 0.0368</text>
<line x1="771.4" y1="377.9" x2="799.4" y2="377.9" stroke="#333" stroke-width="1.5"/>
<line x1="819.3" y1="377.9" x2="847.1" y2="377.9" stroke="#333" stroke-width="1.5"/>
<text transform="translate(778.3,507.0) rotate(-45)" font-size="14.5" text-anchor="end" fill="#222" stroke="#222" stroke-width="0.3">Young</text>
<text transform="translate(802.2,507.0) rotate(-45)" font-size="14.5" text-anchor="end" fill="#222" stroke="#222" stroke-width="0.3">Aged</text>
<text transform="translate(826.0,507.0) rotate(-45)" font-size="14.5" text-anchor="end" fill="#222" stroke="#222" stroke-width="0.3">Young</text>
<text transform="translate(849.6,507.0) rotate(-45)" font-size="14.5" text-anchor="end" fill="#222" stroke="#222" stroke-width="0.3">Aged</text>
<line x1="756.2" y1="542" x2="784.5" y2="542" stroke="#333" stroke-width="1.2"/>
<line x1="802.5" y1="542" x2="830.8" y2="542" stroke="#333" stroke-width="1.2"/>
<text x="771.4" y="554.6" font-size="14" text-anchor="middle" fill="#222" style=""  stroke="#222" stroke-width="0.3">L</text>
<text x="817.4" y="554.6" font-size="14" text-anchor="middle" fill="#222" style=""  stroke="#222" stroke-width="0.3">SL</text>
<rect x="70.4" y="628.3" width="363.20000000000005" height="185.70000000000005" fill="#fdfdfc" stroke="#3a3a3a" stroke-width="1.3"/>
<line x1="67.6" y1="783.7" x2="70.4" y2="783.7" stroke="#3a3a3a" stroke-width="1"/>
<text x="67.3" y="788.5" font-size="14" text-anchor="end" fill="#222" style="" textLength="27" lengthAdjust="spacingAndGlyphs"  stroke="#222" stroke-width="0.3">0.00</text>
<line x1="67.6" y1="750.1" x2="70.4" y2="750.1" stroke="#3a3a3a" stroke-width="1"/>
<text x="67.3" y="754.9" font-size="14" text-anchor="end" fill="#222" style="" textLength="27" lengthAdjust="spacingAndGlyphs"  stroke="#222" stroke-width="0.3">0.25</text>
<line x1="67.6" y1="716.5" x2="70.4" y2="716.5" stroke="#3a3a3a" stroke-width="1"/>
<text x="67.3" y="721.3" font-size="14" text-anchor="end" fill="#222" style="" textLength="27" lengthAdjust="spacingAndGlyphs"  stroke="#222" stroke-width="0.3">0.50</text>
<line x1="67.6" y1="682.9" x2="70.4" y2="682.9" stroke="#3a3a3a" stroke-width="1"/>
<text x="67.3" y="687.7" font-size="14" text-anchor="end" fill="#222" style="" textLength="27" lengthAdjust="spacingAndGlyphs"  stroke="#222" stroke-width="0.3">0.75</text>
<line x1="67.6" y1="649.3" x2="70.4" y2="649.3" stroke="#3a3a3a" stroke-width="1"/>
<text x="67.3" y="654.1" font-size="14" text-anchor="end" fill="#222" style="" textLength="27" lengthAdjust="spacingAndGlyphs"  stroke="#222" stroke-width="0.3">1.00</text>
<text transform="translate(34.4,722) rotate(-90)" font-size="14" text-anchor="middle" fill="#222" textLength="92" lengthAdjust="spacingAndGlyphs" stroke="#222" stroke-width="0.3">Gene set score</text>
<text x="72.5" y="622.2" font-size="14.8" fill="#222" textLength="122.9" lengthAdjust="spacingAndGlyphs" stroke="#222" stroke-width="0.3"><tspan font-style="italic">FOXO1</tspan> target genes</text>
<rect x="336.6" y="611" width="12.8" height="12.8" fill="#4c7f68"/>
<text x="353.0" y="620.5" font-size="11.8" text-anchor="start" fill="#222" style="" textLength="29.4" lengthAdjust="spacingAndGlyphs"  stroke="#222" stroke-width="0.22">Young</text>
<rect x="386.9" y="611" width="12.8" height="12.8" fill="#d2633f"/>
<text x="403.8" y="620.5" font-size="11.8" text-anchor="start" fill="#222" style="" textLength="23.5" lengthAdjust="spacingAndGlyphs"  stroke="#222" stroke-width="0.22">Aged</text>
<path d="M97.30,676.70L96.80,676.70C96.77,678.12 97.21,682.75 96.60,685.20C95.99,687.65 94.24,689.07 93.16,691.40C92.07,693.73 91.17,696.35 90.09,699.20C89.00,702.05 87.64,705.27 86.64,708.50C85.65,711.73 84.21,715.48 84.10,718.60C83.99,721.72 85.10,724.47 85.97,727.20C86.85,729.93 88.16,732.42 89.35,735.00C90.55,737.58 91.98,739.87 93.16,742.70C94.33,745.53 95.78,748.37 96.40,752.00C97.02,755.63 96.82,762.42 96.90,764.50L97.30,764.50Z" fill="#4c7f68"/>
<path d="M97.30,685.20L97.50,685.20C97.79,687.02 98.44,692.73 99.24,696.10C100.03,699.47 101.05,702.30 102.28,705.40C103.50,708.50 105.21,711.33 106.58,714.70C107.95,718.07 110.05,722.75 110.50,725.60C110.95,728.45 110.04,729.47 109.29,731.80C108.53,734.13 107.27,736.75 105.97,739.60C104.66,742.45 102.75,746.05 101.44,748.90C100.13,751.75 98.76,754.62 98.10,756.70C97.44,758.78 97.60,760.62 97.50,761.40L97.30,761.40Z" fill="#d2633f"/>
<line x1="94.0" y1="709.3" x2="94.0" y2="728.0" stroke="#111" stroke-width="1.5"/>
<circle cx="94.0" cy="718.6" r="1.6" fill="#111"/>
<line x1="100.8" y1="720.2" x2="100.8" y2="737.7" stroke="#111" stroke-width="1.5"/>
<circle cx="100.8" cy="728.3" r="1.6" fill="#111"/>
<path d="M141.80,647.00L141.50,647.00C141.42,650.00 141.32,659.42 141.00,665.00C140.68,670.58 140.31,675.83 139.57,680.50C138.82,685.17 137.42,688.85 136.51,693.00C135.60,697.15 134.64,701.52 134.11,705.40C133.58,709.28 133.30,712.67 133.30,716.30C133.30,719.93 133.58,723.32 134.11,727.20C134.64,731.08 135.72,735.47 136.51,739.60C137.29,743.73 138.01,747.85 138.81,752.00C139.61,756.15 140.84,760.87 141.30,764.50C141.76,768.13 141.55,772.25 141.60,773.80L141.80,773.80Z" fill="#4c7f68"/>
<path d="M141.80,677.40L142.00,677.40C142.10,680.00 141.86,688.33 142.60,693.00C143.34,697.67 145.25,701.52 146.47,705.40C147.69,709.28 149.11,712.93 149.93,716.30C150.75,719.67 151.30,722.48 151.40,725.60C151.50,728.72 151.10,731.88 150.51,735.00C149.92,738.12 148.80,740.93 147.86,744.30C146.92,747.67 145.74,751.58 144.86,755.20C143.98,758.82 143.06,760.05 142.60,766.00C142.14,771.95 142.18,786.75 142.10,790.90L141.80,790.90Z" fill="#d2633f"/>
<line x1="138.4" y1="701.5" x2="138.4" y2="728.7" stroke="#111" stroke-width="1.5"/>
<circle cx="138.4" cy="715.0" r="1.6" fill="#111"/>
<line x1="145.3" y1="715.5" x2="145.3" y2="738.1" stroke="#111" stroke-width="1.5"/>
<circle cx="145.3" cy="726.4" r="1.6" fill="#111"/>
<path d="M185.90,700.80L185.40,700.80C185.38,705.33 185.71,722.00 185.30,728.00C184.89,734.00 184.12,734.27 182.93,736.80C181.74,739.33 179.92,740.87 178.15,743.20C176.39,745.53 173.99,748.27 172.33,750.80C170.67,753.33 168.37,756.08 168.20,758.40C168.03,760.72 169.86,762.60 171.31,764.70C172.76,766.80 175.08,768.90 176.90,771.00C178.72,773.10 180.80,775.40 182.20,777.30C183.60,779.20 184.73,780.50 185.30,782.40C185.87,784.30 185.55,787.65 185.60,788.70L185.90,788.70Z" fill="#4c7f68"/>
<path d="M185.90,706.50L186.20,706.50C186.28,708.60 186.26,714.88 186.70,719.10C187.14,723.32 188.11,728.63 188.83,731.80C189.54,734.97 189.72,735.78 191.00,738.10C192.28,740.42 194.96,743.38 196.51,745.70C198.06,748.02 199.30,750.00 200.28,752.00C201.27,754.00 202.67,755.58 202.40,757.70C202.13,759.82 200.26,762.27 198.69,764.70C197.11,767.13 194.59,769.98 192.95,772.30C191.31,774.62 189.94,776.70 188.83,778.60C187.72,780.50 186.74,780.97 186.30,783.70C185.86,786.43 186.22,793.12 186.20,795.00L185.90,795.00Z" fill="#d2633f"/>
<line x1="182.5" y1="748.5" x2="182.5" y2="762.4" stroke="#111" stroke-width="1.5"/>
<circle cx="182.5" cy="754.8" r="1.6" fill="#111"/>
<line x1="189.4" y1="749.5" x2="189.4" y2="763.7" stroke="#111" stroke-width="1.5"/>
<circle cx="189.4" cy="755.6" r="1.6" fill="#111"/>
<path d="M230.00,700.10L229.50,700.10C229.48,704.75 230.04,722.08 229.40,728.00C228.76,733.92 227.00,732.87 225.65,735.60C224.30,738.33 222.76,741.67 221.30,744.40C219.84,747.13 217.92,749.67 216.89,752.00C215.85,754.33 214.73,756.28 215.10,758.40C215.47,760.52 217.43,762.60 219.08,764.70C220.73,766.80 223.35,768.68 225.01,771.00C226.66,773.32 228.22,775.65 229.00,778.60C229.78,781.55 229.58,787.02 229.70,788.70L230.00,788.70Z" fill="#4c7f68"/>
<path d="M230.00,707.70L230.30,707.70C230.63,710.02 231.54,717.58 232.30,721.60C233.06,725.62 233.63,729.05 234.84,731.80C236.05,734.55 238.25,736.20 239.56,738.10C240.87,740.00 242.27,741.52 242.70,743.20C243.13,744.88 242.14,746.30 242.14,748.20C242.14,750.10 243.13,752.48 242.70,754.60C242.27,756.72 240.77,758.58 239.56,760.90C238.35,763.22 236.69,765.97 235.44,768.50C234.19,771.03 232.92,773.78 232.05,776.10C231.18,778.42 230.51,781.35 230.20,782.40L230.00,782.40Z" fill="#d2633f"/>
<line x1="226.8" y1="743.4" x2="226.8" y2="760.9" stroke="#111" stroke-width="1.5"/>
<circle cx="226.8" cy="750.8" r="1.6" fill="#111"/>
<line x1="233.2" y1="740.4" x2="233.2" y2="757.1" stroke="#111" stroke-width="1.5"/>
<circle cx="233.2" cy="748.0" r="1.6" fill="#111"/>
<path d="M274.20,702.10L273.90,702.10C273.83,707.62 274.12,728.53 273.50,735.20C272.88,741.87 271.66,739.80 270.17,742.10C268.68,744.40 266.32,746.70 264.59,749.00C262.85,751.30 261.04,753.60 259.76,755.90C258.48,758.20 256.80,760.50 256.90,762.80C257.00,765.10 258.96,767.40 260.35,769.70C261.74,772.00 263.60,774.30 265.24,776.60C266.88,778.90 268.79,781.20 270.17,783.50C271.55,785.80 272.86,788.10 273.50,790.40C274.14,792.70 273.92,796.15 274.00,797.30L274.20,797.30Z" fill="#4c7f68"/>
<path d="M274.20,702.10L274.50,702.10C274.58,705.32 274.69,716.33 275.00,721.40C275.31,726.47 275.76,729.05 276.39,732.50C277.02,735.95 277.81,739.35 278.76,742.10C279.70,744.85 280.81,746.70 282.04,749.00C283.28,751.30 285.29,753.60 286.17,755.90C287.04,758.20 287.40,760.50 287.30,762.80C287.20,765.10 286.57,767.40 285.59,769.70C284.61,772.00 282.79,774.30 281.40,776.60C280.01,778.90 278.33,781.20 277.23,783.50C276.13,785.80 275.27,788.10 274.80,790.40C274.33,792.70 274.47,796.15 274.40,797.30L274.20,797.30Z" fill="#d2633f"/>
<line x1="271.0" y1="755.9" x2="271.0" y2="769.5" stroke="#111" stroke-width="1.5"/>
<circle cx="271.0" cy="762.1" r="1.6" fill="#111"/>
<line x1="277.6" y1="751.8" x2="277.6" y2="769.7" stroke="#111" stroke-width="1.5"/>
<circle cx="277.6" cy="759.0" r="1.6" fill="#111"/>
<path d="M318.10,685.50L317.80,685.50C317.73,689.18 317.87,702.53 317.40,707.60C316.93,712.67 316.19,713.13 314.95,715.90C313.71,718.67 311.69,721.43 309.95,724.20C308.20,726.97 305.77,729.75 304.48,732.50C303.19,735.25 302.00,738.18 302.20,740.70C302.40,743.22 304.26,745.30 305.66,747.60C307.06,749.90 309.07,752.42 310.61,754.50C312.16,756.58 313.77,758.25 314.95,760.10C316.13,761.95 317.21,763.77 317.70,765.60C318.19,767.43 317.87,770.18 317.90,771.10L318.10,771.10Z" fill="#4c7f68"/>
<path d="M318.10,685.50L318.40,685.50C318.47,690.10 317.96,707.12 318.80,713.10C319.64,719.08 322.21,718.87 323.45,721.40C324.68,723.93 325.14,726.00 326.21,728.30C327.28,730.60 328.69,732.67 329.88,735.20C331.07,737.73 332.74,741.43 333.36,743.50C333.98,745.57 334.27,745.77 333.60,747.60C332.93,749.43 330.94,752.20 329.36,754.50C327.79,756.80 325.67,759.32 324.17,761.40C322.67,763.48 321.34,765.15 320.36,767.00C319.39,768.85 318.64,771.58 318.30,772.50L318.10,772.50Z" fill="#d2633f"/>
<line x1="315.2" y1="729.7" x2="315.2" y2="744.2" stroke="#111" stroke-width="1.5"/>
<circle cx="315.2" cy="735.5" r="1.6" fill="#111"/>
<line x1="321.8" y1="734.5" x2="321.8" y2="750.4" stroke="#111" stroke-width="1.5"/>
<circle cx="321.8" cy="742.4" r="1.6" fill="#111"/>
<path d="M362.80,711.90L362.50,711.90C362.48,717.63 363.14,739.47 362.40,746.30C361.66,753.13 360.01,750.68 358.07,752.90C356.14,755.12 352.94,757.38 350.78,759.60C348.61,761.82 346.40,764.22 345.09,766.20C343.78,768.18 342.72,769.73 342.90,771.50C343.08,773.27 344.44,774.82 346.17,776.80C347.90,778.78 351.18,781.20 353.30,783.40C355.42,785.60 357.43,788.02 358.89,790.00C360.36,791.98 361.48,792.65 362.10,795.30C362.72,797.95 362.52,804.13 362.60,805.90L362.80,805.90Z" fill="#4c7f68"/>
<path d="M362.80,711.90L363.10,711.90C363.17,717.63 362.42,739.02 363.50,746.30C364.58,753.58 367.66,752.95 369.61,755.60C371.55,758.25 373.68,760.00 375.18,762.20C376.68,764.40 377.59,766.70 378.61,768.80C379.63,770.90 381.58,773.03 381.30,774.80C381.02,776.57 378.54,777.75 376.92,779.40C375.30,781.05 373.43,782.72 371.59,784.70C369.76,786.68 367.30,789.32 365.92,791.30C364.54,793.28 363.79,794.17 363.30,796.60C362.81,799.03 363.05,804.35 363.00,805.90L362.80,805.90Z" fill="#d2633f"/>
<line x1="359.2" y1="765.1" x2="359.2" y2="776.5" stroke="#111" stroke-width="1.5"/>
<circle cx="359.2" cy="770.1" r="1.6" fill="#111"/>
<line x1="366.1" y1="765.5" x2="366.1" y2="778.1" stroke="#111" stroke-width="1.5"/>
<circle cx="366.1" cy="770.8" r="1.6" fill="#111"/>
<path d="M406.90,711.90L405.06,711.90C405.02,715.43 404.84,726.70 404.80,733.10C404.76,739.50 405.41,746.12 404.80,750.30C404.19,754.48 402.47,755.55 401.13,758.20C399.79,760.85 398.04,763.55 396.76,766.20C395.49,768.85 394.18,771.68 393.49,774.10C392.79,776.52 392.24,778.50 392.60,780.70C392.96,782.90 394.34,785.08 395.65,787.30C396.95,789.52 398.91,791.78 400.44,794.00C401.96,796.22 403.77,798.62 404.80,800.60C405.83,802.58 406.30,805.02 406.60,805.90L406.90,805.90Z" fill="#4c7f68"/>
<path d="M406.90,715.90L407.20,715.90C407.27,718.77 407.17,727.37 407.60,733.10C408.03,738.83 408.95,745.67 409.76,750.30C410.57,754.93 411.51,757.60 412.46,760.90C413.42,764.20 414.51,767.23 415.47,770.10C416.44,772.97 417.68,775.88 418.24,778.10C418.79,780.32 419.06,781.42 418.80,783.40C418.54,785.38 417.61,787.80 416.67,790.00C415.73,792.20 414.17,794.62 413.13,796.60C412.09,798.58 411.41,800.87 410.42,801.90C409.44,802.93 407.74,802.65 407.20,802.80L406.90,802.80Z" fill="#d2633f"/>
<line x1="403.6" y1="768.8" x2="403.6" y2="784.7" stroke="#111" stroke-width="1.5"/>
<circle cx="403.6" cy="773.6" r="1.6" fill="#111"/>
<line x1="410.4" y1="764.2" x2="410.4" y2="786.7" stroke="#111" stroke-width="1.5"/>
<circle cx="410.4" cy="774.1" r="1.6" fill="#111"/>
<line x1="97.5" y1="814.0" x2="97.5" y2="817.4" stroke="#3a3a3a" stroke-width="1"/>
<text transform="translate(104.8,826.2) rotate(-45)" font-size="13.3" text-anchor="end" fill="#222" stroke="#222" stroke-width="0.3">L-MSC</text>
<line x1="141.8" y1="814.0" x2="141.8" y2="817.4" stroke="#3a3a3a" stroke-width="1"/>
<text transform="translate(149.1,826.2) rotate(-45)" font-size="13.3" text-anchor="end" fill="#222" stroke="#222" stroke-width="0.3">SL-MSC</text>
<line x1="185.9" y1="814.0" x2="185.9" y2="817.4" stroke="#3a3a3a" stroke-width="1"/>
<text transform="translate(193.2,826.2) rotate(-45)" font-size="13.3" text-anchor="end" fill="#222" stroke="#222" stroke-width="0.3">Per</text>
<line x1="230.0" y1="814.0" x2="230.0" y2="817.4" stroke="#3a3a3a" stroke-width="1"/>
<text transform="translate(237.3,826.2) rotate(-45)" font-size="13.3" text-anchor="end" fill="#222" stroke="#222" stroke-width="0.3">SMC</text>
<line x1="274.2" y1="814.0" x2="274.2" y2="817.4" stroke="#3a3a3a" stroke-width="1"/>
<text transform="translate(281.5,826.2) rotate(-45)" font-size="13.3" text-anchor="end" fill="#222" stroke="#222" stroke-width="0.3">EC</text>
<line x1="318.2" y1="814.0" x2="318.2" y2="817.4" stroke="#3a3a3a" stroke-width="1"/>
<text transform="translate(325.5,826.2) rotate(-45)" font-size="13.3" text-anchor="end" fill="#222" stroke="#222" stroke-width="0.3">Adi</text>
<line x1="362.6" y1="814.0" x2="362.6" y2="817.4" stroke="#3a3a3a" stroke-width="1"/>
<text transform="translate(369.9,826.2) rotate(-45)" font-size="13.3" text-anchor="end" fill="#222" stroke="#222" stroke-width="0.3">Mac</text>
<line x1="406.9" y1="814.0" x2="406.9" y2="817.4" stroke="#3a3a3a" stroke-width="1"/>
<text transform="translate(414.2,826.2) rotate(-45)" font-size="13.3" text-anchor="end" fill="#222" stroke="#222" stroke-width="0.3">TC</text>
<text x="72.6" y="641.3" font-size="9.2" fill="#333" textLength="45.7" lengthAdjust="spacingAndGlyphs" stroke="#333" stroke-width="0.12"><tspan font-style="italic">P</tspan> &lt; 2 × 10<tspan dy="-3.2" font-size="5.5">−16</tspan></text>
<text x="119.0" y="641.3" font-size="9.2" fill="#333" textLength="45.6" lengthAdjust="spacingAndGlyphs" stroke="#333" stroke-width="0.12"><tspan font-style="italic">P</tspan> &lt; 2 × 10<tspan dy="-3.2" font-size="5.5">−16</tspan></text>
<text x="168.7" y="641.3" font-size="9.2" fill="#333" textLength="38.8" lengthAdjust="spacingAndGlyphs" stroke="#333" stroke-width="0.12"><tspan font-style="italic">P</tspan> = 0.1214</text>
<text x="210.2" y="641.3" font-size="9.2" fill="#333" textLength="39.8" lengthAdjust="spacingAndGlyphs" stroke="#333" stroke-width="0.12"><tspan font-style="italic">P</tspan> = 0.0098</text>
<text x="252.8" y="641.3" font-size="9.2" fill="#333" textLength="39.6" lengthAdjust="spacingAndGlyphs" stroke="#333" stroke-width="0.12"><tspan font-style="italic">P</tspan> = 0.0014</text>
<text x="293.2" y="641.3" font-size="9.2" fill="#333" textLength="48.8" lengthAdjust="spacingAndGlyphs" stroke="#333" stroke-width="0.12"><tspan font-style="italic">P</tspan> = 2.1 × 10<tspan dy="-3.2" font-size="5.5">−11</tspan></text>
<text x="344.1" y="641.3" font-size="9.2" fill="#333" textLength="38.7" lengthAdjust="spacingAndGlyphs" stroke="#333" stroke-width="0.12"><tspan font-style="italic">P</tspan> = 0.0008</text>
<text x="389.7" y="641.3" font-size="9.2" fill="#333" textLength="37.7" lengthAdjust="spacingAndGlyphs" stroke="#333" stroke-width="0.12"><tspan font-style="italic">P</tspan> = 0.9550</text>
<line x1="89.0" y1="645.3" x2="106.0" y2="645.3" stroke="#333" stroke-width="1.8"/>
<line x1="133.3" y1="645.3" x2="150.3" y2="645.3" stroke="#333" stroke-width="1.8"/>
<line x1="177.4" y1="645.3" x2="194.4" y2="645.3" stroke="#333" stroke-width="1.8"/>
<line x1="221.5" y1="645.3" x2="238.5" y2="645.3" stroke="#333" stroke-width="1.8"/>
<line x1="265.7" y1="645.3" x2="282.7" y2="645.3" stroke="#333" stroke-width="1.8"/>
<line x1="309.7" y1="645.3" x2="326.7" y2="645.3" stroke="#333" stroke-width="1.8"/>
<line x1="354.1" y1="645.3" x2="371.1" y2="645.3" stroke="#333" stroke-width="1.8"/>
<line x1="398.4" y1="645.3" x2="415.4" y2="645.3" stroke="#333" stroke-width="1.8"/>
<text x="508.4" y="621.1" font-size="13" fill="#222" textLength="378" lengthAdjust="spacingAndGlyphs" stroke="#222" stroke-width="0.3">Enriched GO terms/pathways of downregulated <tspan font-style="italic">FOXO1</tspan> target genes</text>
<line x1="652.2" y1="631" x2="652.2" y2="812.6" stroke="#333" stroke-width="1.3"/>
<line x1="651.6" y1="812" x2="843.6" y2="812" stroke="#333" stroke-width="1.3"/>
<line x1="652.2" y1="812" x2="652.2" y2="814.8" stroke="#333" stroke-width="1.2"/>
<text x="652.2" y="828.0" font-size="13.5" text-anchor="middle" fill="#222" style=""  stroke="#222" stroke-width="0.3">0</text>
<line x1="697.5" y1="812" x2="697.5" y2="814.8" stroke="#333" stroke-width="1.2"/>
<text x="697.5" y="828.0" font-size="13.5" text-anchor="middle" fill="#222" style=""  stroke="#222" stroke-width="0.3">2</text>
<line x1="742.8" y1="812" x2="742.8" y2="814.8" stroke="#333" stroke-width="1.2"/>
<text x="742.8" y="828.0" font-size="13.5" text-anchor="middle" fill="#222" style=""  stroke="#222" stroke-width="0.3">4</text>
<line x1="788.1" y1="812" x2="788.1" y2="814.8" stroke="#333" stroke-width="1.2"/>
<text x="788.1" y="828.0" font-size="13.5" text-anchor="middle" fill="#222" style=""  stroke="#222" stroke-width="0.3">6</text>
<line x1="833.4" y1="812" x2="833.4" y2="814.8" stroke="#333" stroke-width="1.2"/>
<text x="833.4" y="828.0" font-size="13.5" text-anchor="middle" fill="#222" style=""  stroke="#222" stroke-width="0.3">8</text>
<text x="744.9" y="842.4" font-size="15" text-anchor="middle" fill="#222" stroke="#222" stroke-width="0.3">−Log<tspan font-size="9.5" dy="3.5">10</tspan><tspan dy="-3.5" font-style="italic">P</tspan></text>
<rect x="652.8" y="641.35" width="153.42" height="20.1" fill="#576a98"/>
<line x1="649.6" y1="651.4" x2="652.2" y2="651.4" stroke="#333" stroke-width="1.1"/>
<text x="644.9" y="648.6" font-size="13.6" text-anchor="end" fill="#222" textLength="159.1" lengthAdjust="spacingAndGlyphs" stroke="#222" stroke-width="0.3">Cell population proliferation</text>
<text x="646" y="662.4" font-size="11.3" text-anchor="end" fill="#5b7bb3" textLength="104.6" lengthAdjust="spacingAndGlyphs" stroke="#5b7bb3" stroke-width="0.22">(<tspan font-style="italic">FYN, MECOM, TACC1</tspan>)</text>
<rect x="652.8" y="676.50" width="90.91" height="20.1" fill="#576a98"/>
<line x1="649.6" y1="686.55" x2="652.2" y2="686.55" stroke="#333" stroke-width="1.1"/>
<text x="644.9" y="683.8" font-size="13.6" text-anchor="end" fill="#222" stroke="#222" stroke-width="0.3">Cellular homeostasis</text>
<text x="646" y="697.5" font-size="11.3" text-anchor="end" fill="#5b7bb3" stroke="#5b7bb3" stroke-width="0.22">(<tspan font-style="italic">SLC1A3, ZBTB20, DISC1</tspan>)</text>
<rect x="652.8" y="711.75" width="83.43" height="20.1" fill="#576a98"/>
<line x1="649.6" y1="721.8" x2="652.2" y2="721.8" stroke="#333" stroke-width="1.1"/>
<text x="644.9" y="719.0" font-size="13.6" text-anchor="end" fill="#222" stroke="#222" stroke-width="0.3">Response to hormone</text>
<text x="646" y="732.8" font-size="11.3" text-anchor="end" fill="#5b7bb3" textLength="115.9" lengthAdjust="spacingAndGlyphs" stroke="#5b7bb3" stroke-width="0.22">(<tspan font-style="italic">AGTR1, FBN1, TGFBR3</tspan>)</text>
<rect x="652.8" y="746.60" width="74.15" height="20.1" fill="#576a98"/>
<line x1="649.6" y1="756.65" x2="652.2" y2="756.65" stroke="#333" stroke-width="1.1"/>
<text x="644.9" y="753.9" font-size="13.6" text-anchor="end" fill="#222" textLength="136.0" lengthAdjust="spacingAndGlyphs" stroke="#222" stroke-width="0.3">FOXO signaling pathway</text>
<text x="646" y="767.6" font-size="11.3" text-anchor="end" fill="#5b7bb3" textLength="100.1" lengthAdjust="spacingAndGlyphs" stroke="#5b7bb3" stroke-width="0.22">(<tspan font-style="italic">BCL6, PIK3R1, IGF1</tspan>)</text>
<rect x="652.8" y="781.65" width="65.08" height="20.1" fill="#576a98"/>
<line x1="649.6" y1="791.7" x2="652.2" y2="791.7" stroke="#333" stroke-width="1.1"/>
<text x="644.9" y="788.9" font-size="13.6" text-anchor="end" fill="#222" textLength="126.6" lengthAdjust="spacingAndGlyphs" stroke="#222" stroke-width="0.3">Cartilage development</text>
<text x="646" y="802.7" font-size="11.3" text-anchor="end" fill="#5b7bb3" textLength="110.7" lengthAdjust="spacingAndGlyphs" stroke="#5b7bb3" stroke-width="0.22">(<tspan font-style="italic">NFIA, PRRX1, ZBTB16</tspan>)</text>
</svg></body></html>
